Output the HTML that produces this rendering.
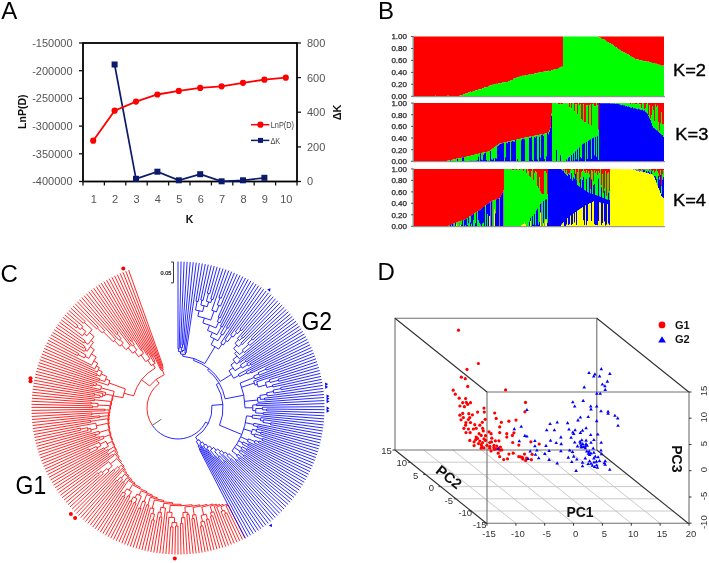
<!DOCTYPE html>
<html><head><meta charset="utf-8"><style>
html,body{margin:0;padding:0;background:#fff;overflow:hidden;}
svg{display:block;font-family:"Liberation Sans", sans-serif;filter:blur(0.35px);}
</style></head><body>
<svg width="709" height="563" viewBox="0 0 709 563">
<text x="1.2" y="18.8" font-size="24" fill="#000">A</text>
<text x="378" y="18.6" font-size="24" fill="#000">B</text>
<text x="0.6" y="281.8" font-size="24" fill="#000">C</text>
<text x="377.5" y="279.6" font-size="24" fill="#000">D</text>
<rect x="83" y="43" width="214" height="138.5" fill="none" stroke="#000" stroke-width="1.8"/>
<line x1="79" y1="43.0" x2="83" y2="43.0" stroke="#111" stroke-width="1.3"/>
<text x="72.5" y="46.9" font-size="11" fill="#555" text-anchor="end">-150000</text>
<line x1="79" y1="70.7" x2="83" y2="70.7" stroke="#111" stroke-width="1.3"/>
<text x="72.5" y="74.6" font-size="11" fill="#555" text-anchor="end">-200000</text>
<line x1="79" y1="98.4" x2="83" y2="98.4" stroke="#111" stroke-width="1.3"/>
<text x="72.5" y="102.3" font-size="11" fill="#555" text-anchor="end">-250000</text>
<line x1="79" y1="126.1" x2="83" y2="126.1" stroke="#111" stroke-width="1.3"/>
<text x="72.5" y="130.0" font-size="11" fill="#555" text-anchor="end">-300000</text>
<line x1="79" y1="153.8" x2="83" y2="153.8" stroke="#111" stroke-width="1.3"/>
<text x="72.5" y="157.7" font-size="11" fill="#555" text-anchor="end">-350000</text>
<line x1="79" y1="181.5" x2="83" y2="181.5" stroke="#111" stroke-width="1.3"/>
<text x="72.5" y="185.4" font-size="11" fill="#555" text-anchor="end">-400000</text>
<line x1="297" y1="43.0" x2="301" y2="43.0" stroke="#111" stroke-width="1.3"/>
<text x="307" y="46.9" font-size="11" fill="#555">800</text>
<line x1="297" y1="77.6" x2="301" y2="77.6" stroke="#111" stroke-width="1.3"/>
<text x="307" y="81.5" font-size="11" fill="#555">600</text>
<line x1="297" y1="112.2" x2="301" y2="112.2" stroke="#111" stroke-width="1.3"/>
<text x="307" y="116.2" font-size="11" fill="#555">400</text>
<line x1="297" y1="146.9" x2="301" y2="146.9" stroke="#111" stroke-width="1.3"/>
<text x="307" y="150.8" font-size="11" fill="#555">200</text>
<line x1="297" y1="181.5" x2="301" y2="181.5" stroke="#111" stroke-width="1.3"/>
<text x="307" y="185.4" font-size="11" fill="#555">0</text>
<line x1="83.0" y1="181.5" x2="83.0" y2="185.5" stroke="#111" stroke-width="1.3"/>
<line x1="104.4" y1="181.5" x2="104.4" y2="185.5" stroke="#111" stroke-width="1.3"/>
<line x1="125.8" y1="181.5" x2="125.8" y2="185.5" stroke="#111" stroke-width="1.3"/>
<line x1="147.2" y1="181.5" x2="147.2" y2="185.5" stroke="#111" stroke-width="1.3"/>
<line x1="168.6" y1="181.5" x2="168.6" y2="185.5" stroke="#111" stroke-width="1.3"/>
<line x1="190.0" y1="181.5" x2="190.0" y2="185.5" stroke="#111" stroke-width="1.3"/>
<line x1="211.4" y1="181.5" x2="211.4" y2="185.5" stroke="#111" stroke-width="1.3"/>
<line x1="232.8" y1="181.5" x2="232.8" y2="185.5" stroke="#111" stroke-width="1.3"/>
<line x1="254.2" y1="181.5" x2="254.2" y2="185.5" stroke="#111" stroke-width="1.3"/>
<line x1="275.6" y1="181.5" x2="275.6" y2="185.5" stroke="#111" stroke-width="1.3"/>
<line x1="297.0" y1="181.5" x2="297.0" y2="185.5" stroke="#111" stroke-width="1.3"/>
<text x="93.7" y="203.2" font-size="11" fill="#555" text-anchor="middle">1</text>
<text x="115.1" y="203.2" font-size="11" fill="#555" text-anchor="middle">2</text>
<text x="136.5" y="203.2" font-size="11" fill="#555" text-anchor="middle">3</text>
<text x="157.9" y="203.2" font-size="11" fill="#555" text-anchor="middle">4</text>
<text x="179.3" y="203.2" font-size="11" fill="#555" text-anchor="middle">5</text>
<text x="200.7" y="203.2" font-size="11" fill="#555" text-anchor="middle">6</text>
<text x="222.1" y="203.2" font-size="11" fill="#555" text-anchor="middle">7</text>
<text x="243.5" y="203.2" font-size="11" fill="#555" text-anchor="middle">8</text>
<text x="264.9" y="203.2" font-size="11" fill="#555" text-anchor="middle">9</text>
<text x="286.3" y="203.2" font-size="11" fill="#555" text-anchor="middle">10</text>
<text x="189.5" y="222.8" font-size="10.5" font-weight="bold" fill="#111" text-anchor="middle">K</text>
<text transform="translate(25.8,111.7) rotate(-90)" font-size="10.5" font-weight="bold" fill="#111" text-anchor="middle">LnP(D)</text>
<text transform="translate(341,112.4) rotate(-90)" font-size="11" font-weight="bold" fill="#111" text-anchor="middle">&#916;K</text>
<polyline points="114.6,64.5 136.0,178.8 157.4,171.7 178.8,180.3 200.2,174.2 221.6,181.3 243.0,180.3 264.4,177.8" fill="none" stroke="#0b1a6c" stroke-width="1.7"/>
<rect x="111.6" y="61.5" width="6" height="6" fill="#0b1a6c"/>
<rect x="133.0" y="175.8" width="6" height="6" fill="#0b1a6c"/>
<rect x="154.4" y="168.7" width="6" height="6" fill="#0b1a6c"/>
<rect x="175.8" y="177.3" width="6" height="6" fill="#0b1a6c"/>
<rect x="197.2" y="171.2" width="6" height="6" fill="#0b1a6c"/>
<rect x="218.6" y="178.3" width="6" height="6" fill="#0b1a6c"/>
<rect x="240.0" y="177.3" width="6" height="6" fill="#0b1a6c"/>
<rect x="261.4" y="174.8" width="6" height="6" fill="#0b1a6c"/>
<polyline points="93.2,140.7 114.6,110.7 136.0,101.6 157.4,94.5 178.8,90.9 200.2,87.9 221.6,86.3 243.0,82.8 264.4,79.7 285.8,77.7" fill="none" stroke="#ff0000" stroke-width="1.8"/>
<circle cx="93.2" cy="140.7" r="3.1" fill="#ff0000"/>
<circle cx="114.6" cy="110.7" r="3.1" fill="#ff0000"/>
<circle cx="136.0" cy="101.6" r="3.1" fill="#ff0000"/>
<circle cx="157.4" cy="94.5" r="3.1" fill="#ff0000"/>
<circle cx="178.8" cy="90.9" r="3.1" fill="#ff0000"/>
<circle cx="200.2" cy="87.9" r="3.1" fill="#ff0000"/>
<circle cx="221.6" cy="86.3" r="3.1" fill="#ff0000"/>
<circle cx="243.0" cy="82.8" r="3.1" fill="#ff0000"/>
<circle cx="264.4" cy="79.7" r="3.1" fill="#ff0000"/>
<circle cx="285.8" cy="77.7" r="3.1" fill="#ff0000"/>
<line x1="251" y1="124.7" x2="269.3" y2="124.7" stroke="#ff0000" stroke-width="1.5"/>
<circle cx="260.4" cy="124.7" r="3.1" fill="#ff0000"/>
<line x1="251" y1="140.4" x2="269.3" y2="140.4" stroke="#0b1a6c" stroke-width="1.5"/>
<rect x="258" y="137.9" width="5" height="5" fill="#0b1a6c"/>
<text transform="translate(270.7,128.3) scale(0.82,1)" font-size="9" fill="#444">LnP(D)</text>
<text transform="translate(270.4,143.6) scale(0.82,1)" font-size="9" fill="#444">&#916;K</text>
<path fill="#ff0000" d="M414 36.50h1V96.16h-1ZM415 36.50h1V96.01h-1ZM416 36.50h1V96.30h-1ZM417 36.50h1V95.94h-1ZM418 36.50h1V96.30h-1ZM419 36.50h1V96.17h-1ZM420 36.50h1V95.92h-1ZM421 36.50h1V96.27h-1ZM422 36.50h1V95.89h-1ZM423 36.50h1V96.20h-1ZM424 36.50h1V95.91h-1ZM425 36.50h1V95.92h-1ZM426 36.50h1V96.18h-1ZM427 36.50h1V96.30h-1ZM428 36.50h1V95.93h-1ZM429 36.50h1V96.01h-1ZM430 36.50h1V96.30h-1ZM431 36.50h1V96.30h-1ZM432 36.50h1V96.28h-1ZM433 36.50h1V96.13h-1ZM434 36.50h1V96.30h-1ZM435 36.50h1V95.84h-1ZM436 36.50h1V96.30h-1ZM437 36.50h1V96.03h-1ZM438 36.50h1V95.91h-1ZM439 36.50h1V95.88h-1ZM440 36.50h1V96.03h-1ZM441 36.50h1V96.30h-1ZM442 36.50h1V95.92h-1ZM443 36.50h1V96.23h-1ZM444 36.50h1V96.27h-1ZM445 36.50h1V96.06h-1ZM446 36.50h1V96.19h-1ZM447 36.50h1V95.80h-1ZM448 36.50h1V95.79h-1ZM449 36.50h1V95.91h-1ZM450 36.50h1V96.28h-1ZM451 36.50h1V96.07h-1ZM452 36.50h1V95.98h-1ZM453 36.50h1V96.19h-1ZM454 36.50h1V96.08h-1ZM455 36.50h1V95.95h-1ZM456 36.50h1V96.30h-1ZM457 36.50h1V96.26h-1ZM458 36.50h1V95.90h-1ZM459 36.50h1V95.83h-1ZM460 36.50h1V95.46h-1ZM461 36.50h1V95.41h-1ZM462 36.50h1V94.96h-1ZM463 36.50h1V94.27h-1ZM464 36.50h1V94.50h-1ZM465 36.50h1V93.47h-1ZM466 36.50h1V93.38h-1ZM467 36.50h1V93.32h-1ZM468 36.50h1V92.51h-1ZM469 36.50h1V92.45h-1ZM470 36.50h1V91.76h-1ZM471 36.50h1V91.93h-1ZM472 36.50h1V91.67h-1ZM473 36.50h1V91.19h-1ZM474 36.50h1V91.10h-1ZM475 36.50h1V90.32h-1ZM476 36.50h1V90.30h-1ZM477 36.50h1V89.90h-1ZM478 36.50h1V89.57h-1ZM479 36.50h1V89.15h-1ZM480 36.50h1V89.14h-1ZM481 36.50h1V88.91h-1ZM482 36.50h1V88.21h-1ZM483 36.50h1V88.04h-1ZM484 36.50h1V87.24h-1ZM485 36.50h1V87.43h-1ZM486 36.50h1V87.07h-1ZM487 36.50h1V87.03h-1ZM488 36.50h1V86.57h-1ZM489 36.50h1V85.82h-1ZM490 36.50h1V85.58h-1ZM491 36.50h1V85.49h-1ZM492 36.50h1V84.67h-1ZM493 36.50h1V84.79h-1ZM494 36.50h1V84.33h-1ZM495 36.50h1V84.06h-1ZM496 36.50h1V83.78h-1ZM497 36.50h1V84.11h-1ZM498 36.50h1V83.37h-1ZM499 36.50h1V83.24h-1ZM500 36.50h1V83.12h-1ZM501 36.50h1V83.27h-1ZM502 36.50h1V82.41h-1ZM503 36.50h1V82.47h-1ZM504 36.50h1V82.32h-1ZM505 36.50h1V82.36h-1ZM506 36.50h1V82.08h-1ZM507 36.50h1V81.88h-1ZM508 36.50h1V81.18h-1ZM509 36.50h1V80.99h-1ZM510 36.50h1V80.45h-1ZM511 36.50h1V80.38h-1ZM512 36.50h1V79.95h-1ZM513 36.50h1V78.81h-1ZM514 36.50h1V78.37h-1ZM515 36.50h1V78.06h-1ZM516 36.50h1V77.71h-1ZM517 36.50h1V77.56h-1ZM518 36.50h1V77.29h-1ZM519 36.50h1V76.67h-1ZM520 36.50h1V76.12h-1ZM521 36.50h1V76.09h-1ZM522 36.50h1V75.70h-1ZM523 36.50h1V75.63h-1ZM524 36.50h1V75.76h-1ZM525 36.50h1V75.37h-1ZM526 36.50h1V75.05h-1ZM527 36.50h1V74.96h-1ZM528 36.50h1V74.83h-1ZM529 36.50h1V74.15h-1ZM530 36.50h1V74.65h-1ZM531 36.50h1V74.38h-1ZM532 36.50h1V74.27h-1ZM533 36.50h1V74.03h-1ZM534 36.50h1V73.53h-1ZM535 36.50h1V73.36h-1ZM536 36.50h1V72.95h-1ZM537 36.50h1V73.20h-1ZM538 36.50h1V72.56h-1ZM539 36.50h1V72.39h-1ZM540 36.50h1V72.33h-1ZM541 36.50h1V72.11h-1ZM542 36.50h1V72.08h-1ZM543 36.50h1V71.67h-1ZM544 36.50h1V71.45h-1ZM545 36.50h1V71.40h-1ZM546 36.50h1V71.18h-1ZM547 36.50h1V71.21h-1ZM548 36.50h1V70.77h-1ZM549 36.50h1V71.27h-1ZM550 36.50h1V70.89h-1ZM551 36.50h1V70.34h-1ZM552 36.50h1V70.08h-1ZM553 36.50h1V69.80h-1ZM554 36.50h1V69.45h-1ZM555 36.50h1V68.90h-1ZM556 36.50h1V69.12h-1ZM557 36.50h1V68.88h-1ZM558 36.50h1V68.11h-1ZM559 36.50h1V67.80h-1ZM560 36.50h1V67.15h-1ZM561 36.50h1V66.84h-1ZM562 36.50h1V66.71h-1ZM598 36.50h1V37.42h-1ZM599 36.50h1V37.32h-1ZM600 36.50h1V37.65h-1ZM601 36.50h1V38.83h-1ZM602 36.50h1V38.93h-1ZM603 36.50h1V39.06h-1ZM604 36.50h1V39.82h-1ZM605 36.50h1V39.93h-1ZM606 36.50h1V40.95h-1ZM607 36.50h1V41.92h-1ZM608 36.50h1V42.44h-1ZM609 36.50h1V42.93h-1ZM610 36.50h1V43.19h-1ZM611 36.50h1V43.89h-1ZM612 36.50h1V44.43h-1ZM613 36.50h1V45.60h-1ZM614 36.50h1V46.10h-1ZM615 36.50h1V46.99h-1ZM616 36.50h1V47.33h-1ZM617 36.50h1V47.93h-1ZM618 36.50h1V49.07h-1ZM619 36.50h1V49.84h-1ZM620 36.50h1V50.38h-1ZM621 36.50h1V50.98h-1ZM622 36.50h1V51.62h-1ZM623 36.50h1V52.20h-1ZM624 36.50h1V52.43h-1ZM625 36.50h1V53.30h-1ZM626 36.50h1V53.76h-1ZM627 36.50h1V54.06h-1ZM628 36.50h1V54.62h-1ZM629 36.50h1V55.37h-1ZM630 36.50h1V55.91h-1ZM631 36.50h1V56.82h-1ZM632 36.50h1V57.59h-1ZM633 36.50h1V57.66h-1ZM634 36.50h1V58.45h-1ZM635 36.50h1V58.89h-1ZM636 36.50h1V59.26h-1ZM637 36.50h1V59.19h-1ZM638 36.50h1V59.48h-1ZM639 36.50h1V59.88h-1ZM640 36.50h1V60.14h-1ZM641 36.50h1V60.32h-1ZM642 36.50h1V60.82h-1ZM643 36.50h1V61.22h-1ZM644 36.50h1V61.34h-1ZM645 36.50h1V61.22h-1ZM646 36.50h1V61.53h-1ZM647 36.50h1V61.81h-1ZM648 36.50h1V61.41h-1ZM649 36.50h1V62.04h-1ZM650 36.50h1V62.47h-1ZM651 36.50h1V62.65h-1ZM652 36.50h1V62.91h-1ZM653 36.50h1V62.98h-1ZM654 36.50h1V63.03h-1ZM655 36.50h1V63.80h-1ZM656 36.50h1V63.72h-1ZM657 36.50h1V64.38h-1ZM658 36.50h1V64.81h-1ZM659 36.50h1V64.63h-1ZM660 36.50h1V64.92h-1ZM661 36.50h1V65.64h-1ZM662 36.50h1V65.75h-1ZM663 36.50h1V65.59h-1ZM414 103.10h1V161.30h-1ZM415 103.10h1V161.30h-1ZM416 103.10h1V161.30h-1ZM417 103.10h1V161.30h-1ZM418 103.10h1V161.30h-1ZM419 103.10h1V161.30h-1ZM420 103.10h1V161.30h-1ZM421 103.10h1V161.30h-1ZM422 103.10h1V161.30h-1ZM423 103.10h1V161.30h-1ZM424 103.10h1V161.30h-1ZM425 103.10h1V161.30h-1ZM426 103.10h1V161.30h-1ZM427 103.10h1V161.30h-1ZM428 103.10h1V161.30h-1ZM429 103.10h1V161.30h-1ZM430 103.10h1V161.30h-1ZM431 103.10h1V161.30h-1ZM432 103.10h1V161.30h-1ZM433 103.10h1V161.30h-1ZM434 103.10h1V161.30h-1ZM435 103.10h1V161.30h-1ZM436 103.10h1V161.30h-1ZM437 103.10h1V161.30h-1ZM438 103.10h1V161.30h-1ZM439 103.10h1V161.30h-1ZM440 103.10h1V161.30h-1ZM441 103.10h1V161.30h-1ZM442 103.10h1V161.30h-1ZM443 103.10h1V161.30h-1ZM444 103.10h1V161.30h-1ZM445 103.10h1V161.19h-1ZM446 103.10h1V160.98h-1ZM447 103.10h1V160.76h-1ZM448 103.10h1V160.55h-1ZM449 103.10h1V160.33h-1ZM450 103.10h1V160.11h-1ZM451 103.10h1V159.90h-1ZM452 103.10h1V159.68h-1ZM453 103.10h1V159.47h-1ZM454 103.10h1V159.25h-1ZM455 103.10h1V159.04h-1ZM456 103.10h1V158.82h-1ZM457 103.10h1V158.60h-1ZM458 103.10h1V158.39h-1ZM459 103.10h1V158.17h-1ZM460 103.10h1V157.96h-1ZM461 103.10h1V157.74h-1ZM462 103.10h1V157.53h-1ZM463 103.10h1V157.31h-1ZM464 103.10h1V157.09h-1ZM465 103.10h1V156.88h-1ZM466 103.10h1V156.64h-1ZM467 103.10h1V156.40h-1ZM468 103.10h1V156.17h-1ZM469 103.10h1V155.93h-1ZM470 103.10h1V155.69h-1ZM471 103.10h1V155.46h-1ZM472 103.10h1V155.22h-1ZM473 103.10h1V154.99h-1ZM474 103.10h1V154.75h-1ZM475 103.10h1V154.51h-1ZM476 103.10h1V154.28h-1ZM477 103.10h1V154.04h-1ZM478 103.10h1V153.80h-1ZM479 103.10h1V153.57h-1ZM480 103.10h1V153.33h-1ZM481 103.10h1V153.10h-1ZM482 103.10h1V152.86h-1ZM483 103.10h1V152.62h-1ZM484 103.10h1V152.39h-1ZM485 103.10h1V152.15h-1ZM486 103.10h1V151.91h-1ZM487 103.10h1V151.68h-1ZM488 103.10h1V151.44h-1ZM489 103.10h1V151.01h-1ZM490 103.10h1V150.28h-1ZM491 103.10h1V149.55h-1ZM492 103.10h1V148.82h-1ZM493 103.10h1V148.09h-1ZM494 103.10h1V147.36h-1ZM495 103.10h1V146.61h-1ZM496 103.10h1V145.82h-1ZM497 103.10h1V145.04h-1ZM498 103.10h1V144.25h-1ZM499 103.10h1V143.63h-1ZM500 103.10h1V143.39h-1ZM501 103.10h1V143.16h-1ZM502 103.10h1V142.92h-1ZM503 103.10h1V142.69h-1ZM504 103.10h1V142.45h-1ZM505 103.10h1V142.22h-1ZM506 103.10h1V141.98h-1ZM507 103.10h1V141.75h-1ZM508 103.10h1V141.52h-1ZM509 103.10h1V141.28h-1ZM510 103.10h1V141.05h-1ZM511 103.10h1V140.82h-1ZM512 103.10h1V140.59h-1ZM513 103.10h1V140.36h-1ZM514 103.10h1V140.13h-1ZM515 103.10h1V139.90h-1ZM516 103.10h1V139.67h-1ZM517 103.10h1V139.44h-1ZM518 103.10h1V139.21h-1ZM519 103.10h1V138.98h-1ZM520 103.10h1V138.75h-1ZM521 103.10h1V138.52h-1ZM522 103.10h1V138.28h-1ZM523 103.10h1V138.05h-1ZM524 103.10h1V137.82h-1ZM525 103.10h1V137.62h-1ZM526 103.10h1V137.42h-1ZM527 103.10h1V137.22h-1ZM528 103.10h1V137.02h-1ZM529 103.10h1V136.82h-1ZM530 103.10h1V136.62h-1ZM531 103.10h1V136.42h-1ZM532 103.10h1V136.22h-1ZM533 103.10h1V136.02h-1ZM534 103.10h1V135.82h-1ZM535 103.10h1V135.62h-1ZM536 103.10h1V135.42h-1ZM537 103.10h1V135.22h-1ZM538 103.10h1V135.02h-1ZM539 103.10h1V134.82h-1ZM540 103.10h1V134.62h-1ZM541 103.10h1V134.42h-1ZM542 103.10h1V134.17h-1ZM543 103.10h1V133.92h-1ZM544 103.10h1V133.66h-1ZM545 103.10h1V133.41h-1ZM546 103.10h1V133.16h-1ZM547 103.10h1V132.90h-1ZM548 103.10h1V132.25h-1ZM549 103.10h1V129.98h-1ZM550 103.10h1V127.71h-1ZM551 103.10h1V113.87h-1ZM557 103.10h1V103.26h-1ZM558 103.10h1V103.94h-1ZM559 103.10h1V104.04h-1ZM560 103.10h1V103.83h-1ZM561 103.10h1V104.22h-1ZM562 103.10h1V103.90h-1ZM563 103.10h1V103.20h-1ZM564 103.10h1V103.48h-1ZM565 103.10h1V103.52h-1ZM566 103.10h1V103.28h-1ZM567 103.10h1V103.25h-1ZM568 103.10h1V103.38h-1ZM569 103.10h1V106.88h-1ZM570 103.10h1V103.31h-1ZM571 103.10h1V108.56h-1ZM572 103.10h1V103.75h-1ZM573 103.10h1V103.60h-1ZM574 103.10h1V111.08h-1ZM575 103.10h1V104.37h-1ZM576 103.10h1V104.36h-1ZM577 103.10h1V114.56h-1ZM578 103.10h1V103.50h-1ZM579 103.10h1V105.09h-1ZM580 103.10h1V104.26h-1ZM581 103.10h1V119.46h-1ZM582 103.10h1V120.69h-1ZM583 103.10h1V104.35h-1ZM584 103.10h1V122.07h-1ZM585 103.10h1V122.58h-1ZM586 103.10h1V105.62h-1ZM587 103.10h1V105.29h-1ZM588 103.10h1V124.12h-1ZM589 103.10h1V105.00h-1ZM590 103.10h1V104.01h-1ZM591 103.10h1V125.69h-1ZM592 103.10h1V103.97h-1ZM593 103.10h1V103.78h-1ZM594 103.10h1V106.32h-1ZM595 103.10h1V106.61h-1ZM596 103.10h1V103.29h-1ZM597 103.10h1V105.62h-1ZM598 103.10h1V129.71h-1ZM612 103.10h1V103.18h-1ZM615 103.10h1V103.33h-1ZM619 103.10h1V103.17h-1ZM620 103.10h1V103.46h-1ZM621 103.10h1V103.31h-1ZM622 103.10h1V103.35h-1ZM623 103.10h1V103.28h-1ZM624 103.10h1V103.24h-1ZM625 103.10h1V103.20h-1ZM626 103.10h1V103.57h-1ZM627 103.10h1V103.29h-1ZM628 103.10h1V103.30h-1ZM629 103.10h1V103.50h-1ZM630 103.10h1V104.04h-1ZM632 103.10h1V103.81h-1ZM633 103.10h1V103.71h-1ZM635 103.10h1V104.28h-1ZM636 103.10h1V104.33h-1ZM637 103.10h1V103.48h-1ZM638 103.10h1V103.31h-1ZM639 103.10h1V104.15h-1ZM640 103.10h1V104.42h-1ZM641 103.10h1V108.51h-1ZM642 103.10h1V103.54h-1ZM643 103.10h1V103.78h-1ZM644 103.10h1V109.06h-1ZM645 103.10h1V108.52h-1ZM646 103.10h1V104.19h-1ZM648 103.10h1V115.12h-1ZM649 103.10h1V105.27h-1ZM650 103.10h1V118.85h-1ZM651 103.10h1V115.26h-1ZM652 103.10h1V105.97h-1ZM653 103.10h1V109.93h-1ZM654 103.10h1V121.21h-1ZM655 103.10h1V104.65h-1ZM656 103.10h1V107.20h-1ZM657 103.10h1V105.63h-1ZM658 103.10h1V122.50h-1ZM659 103.10h1V130.71h-1ZM660 103.10h1V123.68h-1ZM661 103.10h1V112.00h-1ZM662 103.10h1V124.70h-1ZM663 103.10h1V124.03h-1ZM414 168.90h1V226.30h-1ZM415 168.90h1V226.30h-1ZM416 168.90h1V226.30h-1ZM417 168.90h1V226.30h-1ZM418 168.90h1V226.30h-1ZM419 168.90h1V226.30h-1ZM420 168.90h1V226.30h-1ZM421 168.90h1V226.30h-1ZM422 168.90h1V226.30h-1ZM423 168.90h1V226.30h-1ZM424 168.90h1V226.30h-1ZM425 168.90h1V226.30h-1ZM426 168.90h1V226.30h-1ZM427 168.90h1V226.30h-1ZM428 168.90h1V226.30h-1ZM429 168.90h1V226.30h-1ZM430 168.90h1V226.30h-1ZM431 168.90h1V226.30h-1ZM432 168.90h1V226.30h-1ZM433 168.90h1V226.30h-1ZM434 168.90h1V226.30h-1ZM435 168.90h1V226.30h-1ZM436 168.90h1V226.30h-1ZM437 168.90h1V226.30h-1ZM438 168.90h1V226.30h-1ZM439 168.90h1V226.30h-1ZM440 168.90h1V226.30h-1ZM441 168.90h1V226.30h-1ZM442 168.90h1V226.30h-1ZM443 168.90h1V226.30h-1ZM444 168.90h1V226.30h-1ZM445 168.90h1V226.30h-1ZM446 168.90h1V226.30h-1ZM447 168.90h1V226.03h-1ZM448 168.90h1V225.65h-1ZM449 168.90h1V225.27h-1ZM450 168.90h1V224.89h-1ZM451 168.90h1V224.51h-1ZM452 168.90h1V224.12h-1ZM453 168.90h1V223.74h-1ZM454 168.90h1V223.36h-1ZM455 168.90h1V222.98h-1ZM456 168.90h1V222.60h-1ZM457 168.90h1V222.22h-1ZM458 168.90h1V221.83h-1ZM459 168.90h1V221.45h-1ZM460 168.90h1V221.07h-1ZM461 168.90h1V220.69h-1ZM462 168.90h1V220.31h-1ZM463 168.90h1V219.93h-1ZM464 168.90h1V219.54h-1ZM465 168.90h1V219.14h-1ZM466 168.90h1V218.51h-1ZM467 168.90h1V217.88h-1ZM468 168.90h1V217.25h-1ZM469 168.90h1V216.62h-1ZM470 168.90h1V215.99h-1ZM471 168.90h1V215.36h-1ZM472 168.90h1V214.73h-1ZM473 168.90h1V214.10h-1ZM474 168.90h1V213.47h-1ZM475 168.90h1V212.84h-1ZM476 168.90h1V212.21h-1ZM477 168.90h1V211.58h-1ZM478 168.90h1V210.95h-1ZM479 168.90h1V210.23h-1ZM480 168.90h1V209.45h-1ZM481 168.90h1V208.67h-1ZM482 168.90h1V207.89h-1ZM483 168.90h1V207.11h-1ZM484 168.90h1V206.32h-1ZM485 168.90h1V205.54h-1ZM486 168.90h1V204.76h-1ZM487 168.90h1V203.98h-1ZM488 168.90h1V203.20h-1ZM489 168.90h1V202.42h-1ZM490 168.90h1V201.63h-1ZM491 168.90h1V201.14h-1ZM492 168.90h1V200.78h-1ZM493 168.90h1V200.41h-1ZM494 168.90h1V200.05h-1ZM495 168.90h1V199.68h-1ZM496 168.90h1V199.32h-1ZM497 168.90h1V198.95h-1ZM498 168.90h1V198.58h-1ZM499 168.90h1V198.22h-1ZM500 168.90h1V197.11h-1ZM501 168.90h1V194.87h-1ZM502 168.90h1V192.64h-1ZM503 168.90h1V190.40h-1ZM507 168.90h1V169.85h-1ZM508 168.90h1V169.16h-1ZM510 168.90h1V169.78h-1ZM512 168.90h1V170.17h-1ZM513 168.90h1V170.37h-1ZM516 168.90h1V169.91h-1ZM519 168.90h1V170.61h-1ZM520 168.90h1V169.07h-1ZM521 168.90h1V169.00h-1ZM522 168.90h1V169.63h-1ZM523 168.90h1V171.45h-1ZM524 168.90h1V168.98h-1ZM525 168.90h1V169.15h-1ZM526 168.90h1V173.41h-1ZM527 168.90h1V169.20h-1ZM528 168.90h1V171.14h-1ZM529 168.90h1V176.00h-1ZM530 168.90h1V177.00h-1ZM531 168.90h1V171.37h-1ZM532 168.90h1V169.37h-1ZM533 168.90h1V180.51h-1ZM534 168.90h1V173.50h-1ZM535 168.90h1V171.18h-1ZM536 168.90h1V172.56h-1ZM537 168.90h1V186.19h-1ZM538 168.90h1V187.89h-1ZM539 168.90h1V177.15h-1ZM540 168.90h1V191.83h-1ZM541 168.90h1V193.80h-1ZM542 168.90h1V193.89h-1ZM543 168.90h1V193.98h-1ZM544 168.90h1V170.96h-1ZM545 168.90h1V171.36h-1ZM546 168.90h1V172.98h-1ZM547 168.90h1V194.35h-1ZM561 168.90h1V169.35h-1ZM563 168.90h1V170.51h-1ZM564 168.90h1V169.65h-1ZM565 168.90h1V172.64h-1ZM566 168.90h1V170.01h-1ZM567 168.90h1V174.54h-1ZM568 168.90h1V173.35h-1ZM569 168.90h1V173.71h-1ZM570 168.90h1V170.43h-1ZM571 168.90h1V169.01h-1ZM572 168.90h1V169.02h-1ZM573 168.90h1V170.13h-1ZM574 168.90h1V175.72h-1ZM575 168.90h1V169.04h-1ZM576 168.90h1V179.02h-1ZM577 168.90h1V171.93h-1ZM578 168.90h1V168.99h-1ZM579 168.90h1V183.13h-1ZM580 168.90h1V177.81h-1ZM581 168.90h1V172.55h-1ZM582 168.90h1V171.30h-1ZM583 168.90h1V169.29h-1ZM584 168.90h1V171.47h-1ZM585 168.90h1V173.38h-1ZM586 168.90h1V170.62h-1ZM587 168.90h1V173.41h-1ZM588 168.90h1V171.26h-1ZM589 168.90h1V174.73h-1ZM590 168.90h1V189.60h-1ZM591 168.90h1V170.27h-1ZM592 168.90h1V170.94h-1ZM593 168.90h1V180.91h-1ZM594 168.90h1V170.65h-1ZM595 168.90h1V173.47h-1ZM596 168.90h1V171.05h-1ZM597 168.90h1V175.41h-1ZM598 168.90h1V171.23h-1ZM599 168.90h1V173.27h-1ZM600 168.90h1V169.14h-1ZM601 168.90h1V185.14h-1ZM602 168.90h1V174.21h-1ZM603 168.90h1V192.92h-1ZM604 168.90h1V188.76h-1ZM605 168.90h1V171.24h-1ZM606 168.90h1V196.61h-1ZM607 168.90h1V173.67h-1ZM608 168.90h1V172.76h-1ZM609 168.90h1V190.97h-1ZM633 168.90h1V168.99h-1ZM634 168.90h1V169.00h-1ZM635 168.90h1V169.14h-1ZM636 168.90h1V169.39h-1ZM637 168.90h1V169.36h-1ZM638 168.90h1V169.42h-1ZM639 168.90h1V170.38h-1ZM640 168.90h1V170.14h-1ZM641 168.90h1V169.33h-1ZM642 168.90h1V170.32h-1ZM643 168.90h1V169.23h-1ZM644 168.90h1V169.47h-1ZM645 168.90h1V169.47h-1ZM646 168.90h1V169.82h-1ZM647 168.90h1V169.00h-1ZM648 168.90h1V169.22h-1ZM649 168.90h1V170.74h-1ZM650 168.90h1V169.53h-1ZM651 168.90h1V169.91h-1ZM652 168.90h1V170.99h-1ZM653 168.90h1V170.45h-1ZM654 168.90h1V172.86h-1ZM655 168.90h1V171.02h-1ZM656 168.90h1V169.46h-1ZM657 168.90h1V171.08h-1ZM658 168.90h1V173.80h-1ZM659 168.90h1V177.29h-1ZM660 168.90h1V170.48h-1ZM661 168.90h1V186.03h-1ZM662 168.90h1V174.52h-1ZM663 168.90h1V170.26h-1Z"/>
<path fill="#00ff00" d="M414 96.16h1V96.30h-1ZM415 96.01h1V96.30h-1ZM417 95.94h1V96.30h-1ZM419 96.17h1V96.30h-1ZM420 95.92h1V96.30h-1ZM422 95.89h1V96.30h-1ZM423 96.20h1V96.30h-1ZM424 95.91h1V96.30h-1ZM425 95.92h1V96.30h-1ZM426 96.18h1V96.30h-1ZM428 95.93h1V96.30h-1ZM429 96.01h1V96.30h-1ZM433 96.13h1V96.30h-1ZM435 95.84h1V96.30h-1ZM437 96.03h1V96.30h-1ZM438 95.91h1V96.30h-1ZM439 95.88h1V96.30h-1ZM440 96.03h1V96.30h-1ZM442 95.92h1V96.30h-1ZM443 96.23h1V96.30h-1ZM445 96.06h1V96.30h-1ZM446 96.19h1V96.30h-1ZM447 95.80h1V96.30h-1ZM448 95.79h1V96.30h-1ZM449 95.91h1V96.30h-1ZM451 96.07h1V96.30h-1ZM452 95.98h1V96.30h-1ZM453 96.19h1V96.30h-1ZM454 96.08h1V96.30h-1ZM455 95.95h1V96.30h-1ZM458 95.90h1V96.30h-1ZM459 95.83h1V96.30h-1ZM460 95.46h1V96.30h-1ZM461 95.41h1V96.30h-1ZM462 94.96h1V96.30h-1ZM463 94.27h1V96.30h-1ZM464 94.50h1V96.30h-1ZM465 93.47h1V96.30h-1ZM466 93.38h1V96.30h-1ZM467 93.32h1V96.30h-1ZM468 92.51h1V96.30h-1ZM469 92.45h1V96.30h-1ZM470 91.76h1V96.30h-1ZM471 91.93h1V96.30h-1ZM472 91.67h1V96.30h-1ZM473 91.19h1V96.30h-1ZM474 91.10h1V96.30h-1ZM475 90.32h1V96.30h-1ZM476 90.30h1V96.30h-1ZM477 89.90h1V96.30h-1ZM478 89.57h1V96.30h-1ZM479 89.15h1V96.30h-1ZM480 89.14h1V96.30h-1ZM481 88.91h1V96.30h-1ZM482 88.21h1V96.30h-1ZM483 88.04h1V96.30h-1ZM484 87.24h1V96.30h-1ZM485 87.43h1V96.30h-1ZM486 87.07h1V96.30h-1ZM487 87.03h1V96.30h-1ZM488 86.57h1V96.30h-1ZM489 85.82h1V96.30h-1ZM490 85.58h1V96.30h-1ZM491 85.49h1V96.30h-1ZM492 84.67h1V96.30h-1ZM493 84.79h1V96.30h-1ZM494 84.33h1V96.30h-1ZM495 84.06h1V96.30h-1ZM496 83.78h1V96.30h-1ZM497 84.11h1V96.30h-1ZM498 83.37h1V96.30h-1ZM499 83.24h1V96.30h-1ZM500 83.12h1V96.30h-1ZM501 83.27h1V96.30h-1ZM502 82.41h1V96.30h-1ZM503 82.47h1V96.30h-1ZM504 82.32h1V96.30h-1ZM505 82.36h1V96.30h-1ZM506 82.08h1V96.30h-1ZM507 81.88h1V96.30h-1ZM508 81.18h1V96.30h-1ZM509 80.99h1V96.30h-1ZM510 80.45h1V96.30h-1ZM511 80.38h1V96.30h-1ZM512 79.95h1V96.30h-1ZM513 78.81h1V96.30h-1ZM514 78.37h1V96.30h-1ZM515 78.06h1V96.30h-1ZM516 77.71h1V96.30h-1ZM517 77.56h1V96.30h-1ZM518 77.29h1V96.30h-1ZM519 76.67h1V96.30h-1ZM520 76.12h1V96.30h-1ZM521 76.09h1V96.30h-1ZM522 75.70h1V96.30h-1ZM523 75.63h1V96.30h-1ZM524 75.76h1V96.30h-1ZM525 75.37h1V96.30h-1ZM526 75.05h1V96.30h-1ZM527 74.96h1V96.30h-1ZM528 74.83h1V96.30h-1ZM529 74.15h1V96.30h-1ZM530 74.65h1V96.30h-1ZM531 74.38h1V96.30h-1ZM532 74.27h1V96.30h-1ZM533 74.03h1V96.30h-1ZM534 73.53h1V96.30h-1ZM535 73.36h1V96.30h-1ZM536 72.95h1V96.30h-1ZM537 73.20h1V96.30h-1ZM538 72.56h1V96.30h-1ZM539 72.39h1V96.30h-1ZM540 72.33h1V96.30h-1ZM541 72.11h1V96.30h-1ZM542 72.08h1V96.30h-1ZM543 71.67h1V96.30h-1ZM544 71.45h1V96.30h-1ZM545 71.40h1V96.30h-1ZM546 71.18h1V96.30h-1ZM547 71.21h1V96.30h-1ZM548 70.77h1V96.30h-1ZM549 71.27h1V96.30h-1ZM550 70.89h1V96.30h-1ZM551 70.34h1V96.30h-1ZM552 70.08h1V96.30h-1ZM553 69.80h1V96.30h-1ZM554 69.45h1V96.30h-1ZM555 68.90h1V96.30h-1ZM556 69.12h1V96.30h-1ZM557 68.88h1V96.30h-1ZM558 68.11h1V96.30h-1ZM559 67.80h1V96.30h-1ZM560 67.15h1V96.30h-1ZM561 66.84h1V96.30h-1ZM562 66.71h1V96.30h-1ZM563 36.50h1V96.30h-1ZM564 36.50h1V96.30h-1ZM565 36.50h1V96.30h-1ZM566 36.50h1V96.30h-1ZM567 36.50h1V96.30h-1ZM568 36.50h1V96.30h-1ZM569 36.50h1V96.30h-1ZM570 36.50h1V96.30h-1ZM571 36.50h1V96.30h-1ZM572 36.50h1V96.30h-1ZM573 36.50h1V96.30h-1ZM574 36.50h1V96.30h-1ZM575 36.50h1V96.30h-1ZM576 36.50h1V96.30h-1ZM577 36.50h1V96.30h-1ZM578 36.50h1V96.30h-1ZM579 36.50h1V96.30h-1ZM580 36.50h1V96.30h-1ZM581 36.50h1V96.30h-1ZM582 36.50h1V96.30h-1ZM583 36.50h1V96.30h-1ZM584 36.50h1V96.30h-1ZM585 36.50h1V96.30h-1ZM586 36.50h1V96.30h-1ZM587 36.50h1V96.30h-1ZM588 36.50h1V96.30h-1ZM589 36.50h1V96.30h-1ZM590 36.50h1V96.30h-1ZM591 36.50h1V96.30h-1ZM592 36.50h1V96.30h-1ZM593 36.50h1V96.30h-1ZM594 36.50h1V96.30h-1ZM595 36.50h1V96.30h-1ZM596 36.50h1V96.30h-1ZM597 36.53h1V96.30h-1ZM598 37.42h1V96.30h-1ZM599 37.32h1V96.30h-1ZM600 37.65h1V96.30h-1ZM601 38.83h1V96.30h-1ZM602 38.93h1V96.30h-1ZM603 39.06h1V96.30h-1ZM604 39.82h1V96.30h-1ZM605 39.93h1V96.30h-1ZM606 40.95h1V96.30h-1ZM607 41.92h1V96.30h-1ZM608 42.44h1V96.30h-1ZM609 42.93h1V96.30h-1ZM610 43.19h1V96.30h-1ZM611 43.89h1V96.30h-1ZM612 44.43h1V96.30h-1ZM613 45.60h1V96.30h-1ZM614 46.10h1V96.30h-1ZM615 46.99h1V96.30h-1ZM616 47.33h1V96.30h-1ZM617 47.93h1V96.30h-1ZM618 49.07h1V96.30h-1ZM619 49.84h1V96.30h-1ZM620 50.38h1V96.30h-1ZM621 50.98h1V96.30h-1ZM622 51.62h1V96.30h-1ZM623 52.20h1V96.30h-1ZM624 52.43h1V96.30h-1ZM625 53.30h1V96.30h-1ZM626 53.76h1V96.30h-1ZM627 54.06h1V96.30h-1ZM628 54.62h1V96.30h-1ZM629 55.37h1V96.30h-1ZM630 55.91h1V96.30h-1ZM631 56.82h1V96.30h-1ZM632 57.59h1V96.30h-1ZM633 57.66h1V96.30h-1ZM634 58.45h1V96.30h-1ZM635 58.89h1V96.30h-1ZM636 59.26h1V96.30h-1ZM637 59.19h1V96.30h-1ZM638 59.48h1V96.30h-1ZM639 59.88h1V96.30h-1ZM640 60.14h1V96.30h-1ZM641 60.32h1V96.30h-1ZM642 60.82h1V96.30h-1ZM643 61.22h1V96.30h-1ZM644 61.34h1V96.30h-1ZM645 61.22h1V96.30h-1ZM646 61.53h1V96.30h-1ZM647 61.81h1V96.30h-1ZM648 61.41h1V96.30h-1ZM649 62.04h1V96.30h-1ZM650 62.47h1V96.30h-1ZM651 62.65h1V96.30h-1ZM652 62.91h1V96.30h-1ZM653 62.98h1V96.30h-1ZM654 63.03h1V96.30h-1ZM655 63.80h1V96.30h-1ZM656 63.72h1V96.30h-1ZM657 64.38h1V96.30h-1ZM658 64.81h1V96.30h-1ZM659 64.63h1V96.30h-1ZM660 64.92h1V96.30h-1ZM661 65.64h1V96.30h-1ZM662 65.75h1V96.30h-1ZM663 65.59h1V96.30h-1ZM445 161.19h1V161.27h-1ZM446 160.98h1V161.29h-1ZM447 160.76h1V161.22h-1ZM448 160.55h1V161.26h-1ZM449 160.33h1V161.28h-1ZM451 159.90h1V161.10h-1ZM452 159.68h1V161.09h-1ZM453 159.47h1V161.24h-1ZM454 159.25h1V161.21h-1ZM455 159.04h1V161.10h-1ZM456 158.82h1V161.14h-1ZM457 158.60h1V158.81h-1ZM458 158.39h1V161.05h-1ZM459 158.17h1V161.10h-1ZM460 157.96h1V161.05h-1ZM461 157.74h1V161.02h-1ZM464 157.09h1V160.84h-1ZM465 156.88h1V161.08h-1ZM466 156.64h1V160.91h-1ZM467 156.40h1V161.22h-1ZM468 156.17h1V161.11h-1ZM469 155.93h1V160.68h-1ZM470 155.69h1V160.83h-1ZM471 155.46h1V160.50h-1ZM472 155.22h1V160.74h-1ZM473 154.99h1V160.81h-1ZM474 154.75h1V160.86h-1ZM475 154.51h1V160.81h-1ZM476 154.28h1V160.56h-1ZM477 154.04h1V160.27h-1ZM478 153.80h1V156.61h-1ZM479 153.57h1V161.14h-1ZM481 153.10h1V159.56h-1ZM482 152.86h1V160.16h-1ZM483 152.62h1V154.72h-1ZM484 152.39h1V153.27h-1ZM485 152.15h1V152.52h-1ZM486 151.91h1V159.91h-1ZM487 151.68h1V161.07h-1ZM488 151.44h1V160.54h-1ZM489 151.01h1V161.00h-1ZM490 150.28h1V150.92h-1ZM491 149.55h1V159.23h-1ZM492 148.82h1V159.69h-1ZM493 148.09h1V158.13h-1ZM494 147.36h1V161.30h-1ZM495 146.61h1V157.97h-1ZM496 145.82h1V158.38h-1ZM497 145.04h1V146.14h-1ZM498 144.25h1V145.54h-1ZM499 143.63h1V144.39h-1ZM500 143.39h1V144.10h-1ZM501 143.16h1V143.56h-1ZM502 142.92h1V143.19h-1ZM503 142.69h1V143.09h-1ZM504 142.45h1V161.30h-1ZM505 142.22h1V157.18h-1ZM506 141.98h1V142.51h-1ZM507 141.75h1V143.20h-1ZM508 141.52h1V141.72h-1ZM509 141.28h1V141.67h-1ZM510 141.05h1V160.38h-1ZM511 140.82h1V141.85h-1ZM512 140.59h1V140.93h-1ZM513 140.36h1V141.49h-1ZM514 140.13h1V141.49h-1ZM515 139.90h1V139.96h-1ZM516 139.67h1V161.30h-1ZM517 139.44h1V158.71h-1ZM518 139.21h1V161.30h-1ZM519 138.98h1V161.30h-1ZM520 138.75h1V161.30h-1ZM521 138.52h1V140.28h-1ZM522 138.28h1V138.68h-1ZM523 138.05h1V138.42h-1ZM524 137.82h1V139.19h-1ZM525 137.62h1V161.30h-1ZM526 137.42h1V161.30h-1ZM527 137.22h1V160.97h-1ZM528 137.02h1V161.30h-1ZM529 136.82h1V137.81h-1ZM530 136.62h1V137.80h-1ZM531 136.42h1V136.51h-1ZM532 136.22h1V159.65h-1ZM533 136.02h1V161.30h-1ZM534 135.82h1V136.94h-1ZM535 135.62h1V137.60h-1ZM536 135.42h1V136.16h-1ZM537 135.22h1V159.48h-1ZM538 135.02h1V161.30h-1ZM539 134.82h1V136.46h-1ZM540 134.62h1V157.39h-1ZM541 134.42h1V135.06h-1ZM542 134.17h1V134.35h-1ZM543 133.92h1V135.79h-1ZM544 133.66h1V159.05h-1ZM545 133.41h1V161.30h-1ZM546 133.16h1V156.20h-1ZM547 132.90h1V133.00h-1ZM548 132.25h1V134.32h-1ZM549 129.98h1V131.82h-1ZM550 127.71h1V128.08h-1ZM551 113.87h1V115.79h-1ZM552 103.10h1V161.30h-1ZM553 103.10h1V161.30h-1ZM554 103.10h1V161.30h-1ZM555 103.10h1V161.30h-1ZM556 103.15h1V149.69h-1ZM557 103.26h1V161.30h-1ZM558 103.94h1V161.30h-1ZM559 104.04h1V161.30h-1ZM560 103.83h1V155.37h-1ZM561 104.22h1V161.30h-1ZM562 103.90h1V161.30h-1ZM563 103.20h1V161.30h-1ZM564 103.48h1V160.88h-1ZM565 103.52h1V161.20h-1ZM566 103.28h1V159.18h-1ZM567 103.25h1V160.39h-1ZM568 103.38h1V157.49h-1ZM569 106.88h1V156.64h-1ZM570 103.31h1V161.27h-1ZM571 108.56h1V154.95h-1ZM572 103.75h1V160.46h-1ZM573 103.60h1V153.25h-1ZM574 111.08h1V160.58h-1ZM575 104.37h1V151.30h-1ZM576 104.36h1V159.32h-1ZM577 114.56h1V149.30h-1ZM578 103.50h1V160.56h-1ZM579 105.09h1V147.30h-1ZM580 104.26h1V157.08h-1ZM581 119.46h1V158.19h-1ZM582 120.69h1V144.30h-1ZM583 104.35h1V143.50h-1ZM584 122.07h1V142.91h-1ZM585 122.58h1V161.29h-1ZM586 105.62h1V141.72h-1ZM587 105.29h1V158.96h-1ZM588 124.12h1V140.53h-1ZM589 105.00h1V139.93h-1ZM590 104.01h1V139.34h-1ZM591 125.69h1V158.72h-1ZM592 103.97h1V138.15h-1ZM593 103.78h1V137.55h-1ZM594 106.32h1V155.16h-1ZM595 106.61h1V136.72h-1ZM596 103.29h1V156.83h-1ZM597 105.62h1V136.31h-1ZM598 129.71h1V160.02h-1ZM601 103.10h1V103.16h-1ZM602 103.12h1V103.19h-1ZM603 103.13h1V103.21h-1ZM604 103.11h1V103.24h-1ZM605 103.13h1V103.26h-1ZM606 103.11h1V103.29h-1ZM607 103.13h1V103.31h-1ZM608 103.12h1V103.34h-1ZM609 103.11h1V103.36h-1ZM610 103.11h1V103.39h-1ZM611 103.12h1V103.41h-1ZM612 103.18h1V103.44h-1ZM613 103.15h1V103.46h-1ZM614 103.12h1V103.49h-1ZM615 103.33h1V104.01h-1ZM616 103.12h1V103.77h-1ZM617 103.11h1V103.72h-1ZM618 103.12h1V104.09h-1ZM619 103.17h1V104.20h-1ZM620 103.46h1V104.74h-1ZM621 103.31h1V105.13h-1ZM622 103.35h1V105.01h-1ZM623 103.28h1V105.20h-1ZM624 103.24h1V105.14h-1ZM625 103.20h1V106.29h-1ZM626 103.57h1V106.08h-1ZM627 103.29h1V106.69h-1ZM628 103.30h1V106.35h-1ZM629 103.50h1V106.72h-1ZM630 104.04h1V107.53h-1ZM631 103.13h1V107.70h-1ZM632 103.81h1V107.11h-1ZM633 103.71h1V108.22h-1ZM634 103.10h1V108.16h-1ZM635 104.28h1V108.19h-1ZM636 104.33h1V108.85h-1ZM637 103.48h1V109.23h-1ZM638 103.31h1V108.59h-1ZM639 104.15h1V109.23h-1ZM640 104.42h1V109.87h-1ZM641 108.51h1V109.92h-1ZM642 103.54h1V109.42h-1ZM643 103.78h1V110.53h-1ZM644 109.06h1V110.35h-1ZM645 108.52h1V111.78h-1ZM646 104.19h1V112.47h-1ZM647 103.13h1V113.84h-1ZM648 115.12h1V115.94h-1ZM649 105.27h1V118.31h-1ZM650 118.85h1V119.93h-1ZM651 115.26h1V123.10h-1ZM652 105.97h1V125.90h-1ZM653 109.93h1V127.71h-1ZM654 121.21h1V128.31h-1ZM655 104.65h1V129.13h-1ZM656 107.20h1V130.14h-1ZM657 105.63h1V130.18h-1ZM658 122.50h1V131.73h-1ZM659 130.71h1V132.69h-1ZM660 123.68h1V133.44h-1ZM661 112.00h1V134.38h-1ZM662 124.70h1V135.12h-1ZM663 124.03h1V136.97h-1ZM448 225.65h1V226.30h-1ZM449 225.85h1V226.30h-1ZM450 226.16h1V226.30h-1ZM451 225.26h1V226.30h-1ZM454 223.36h1V226.30h-1ZM456 223.28h1V223.89h-1ZM457 222.22h1V226.30h-1ZM458 221.83h1V226.30h-1ZM460 221.07h1V225.04h-1ZM461 220.69h1V224.53h-1ZM463 219.93h1V226.30h-1ZM465 225.35h1V226.30h-1ZM467 217.88h1V225.05h-1ZM468 223.51h1V226.30h-1ZM469 216.62h1V226.30h-1ZM470 215.99h1V222.35h-1ZM471 223.86h1V226.30h-1ZM473 220.15h1V226.30h-1ZM474 213.47h1V226.30h-1ZM475 212.84h1V222.98h-1ZM477 211.58h1V226.30h-1ZM478 220.19h1V226.30h-1ZM479 223.05h1V226.30h-1ZM480 224.52h1V226.30h-1ZM482 223.53h1V226.30h-1ZM483 222.81h1V226.30h-1ZM485 205.54h1V226.30h-1ZM487 214.01h1V226.30h-1ZM493 200.41h1V226.30h-1ZM494 200.05h1V209.09h-1ZM495 199.68h1V213.18h-1ZM504 168.90h1V226.30h-1ZM505 168.90h1V226.30h-1ZM506 168.90h1V226.30h-1ZM507 169.85h1V226.30h-1ZM508 169.16h1V226.30h-1ZM509 168.90h1V226.30h-1ZM510 169.78h1V226.30h-1ZM511 168.90h1V226.30h-1ZM512 170.17h1V226.30h-1ZM513 170.37h1V226.30h-1ZM514 168.90h1V226.30h-1ZM515 168.90h1V226.30h-1ZM516 169.91h1V226.30h-1ZM517 168.90h1V226.30h-1ZM518 168.90h1V226.30h-1ZM519 170.61h1V226.30h-1ZM520 169.07h1V226.30h-1ZM521 169.00h1V224.93h-1ZM522 169.63h1V224.66h-1ZM523 171.45h1V224.15h-1ZM524 168.98h1V222.40h-1ZM525 169.15h1V224.59h-1ZM526 173.41h1V226.30h-1ZM527 169.20h1V226.30h-1ZM528 171.14h1V226.30h-1ZM529 176.00h1V221.46h-1ZM530 177.00h1V217.57h-1ZM531 171.37h1V225.82h-1ZM532 169.37h1V215.88h-1ZM533 180.51h1V224.42h-1ZM534 173.50h1V213.73h-1ZM535 171.18h1V225.16h-1ZM536 172.56h1V210.27h-1ZM537 186.19h1V208.53h-1ZM538 187.89h1V224.82h-1ZM539 177.15h1V222.07h-1ZM540 191.83h1V203.74h-1ZM541 193.80h1V202.82h-1ZM542 193.89h1V226.14h-1ZM543 193.98h1V200.98h-1ZM544 170.96h1V222.56h-1ZM545 171.36h1V199.50h-1ZM546 172.98h1V199.30h-1ZM547 194.35h1V222.68h-1ZM561 169.35h1V169.44h-1ZM562 168.92h1V170.53h-1ZM563 170.51h1V170.66h-1ZM564 169.65h1V172.70h-1ZM565 172.64h1V173.79h-1ZM566 170.01h1V174.87h-1ZM567 174.54h1V175.96h-1ZM568 173.35h1V173.85h-1ZM569 173.71h1V174.69h-1ZM570 170.43h1V178.71h-1ZM571 169.01h1V172.88h-1ZM572 169.02h1V180.49h-1ZM573 170.13h1V177.24h-1ZM574 175.72h1V178.38h-1ZM575 169.04h1V173.94h-1ZM576 179.02h1V179.58h-1ZM577 171.93h1V184.91h-1ZM578 168.99h1V185.80h-1ZM579 183.13h1V186.46h-1ZM580 177.81h1V178.96h-1ZM581 172.55h1V187.79h-1ZM582 171.30h1V180.02h-1ZM583 169.29h1V176.69h-1ZM584 171.47h1V189.78h-1ZM585 173.38h1V190.44h-1ZM586 170.62h1V178.71h-1ZM587 173.41h1V191.77h-1ZM588 171.26h1V192.43h-1ZM589 174.73h1V177.13h-1ZM590 189.60h1V193.24h-1ZM591 170.27h1V179.18h-1ZM592 170.94h1V193.91h-1ZM593 180.91h1V184.90h-1ZM594 170.65h1V184.04h-1ZM595 173.47h1V194.92h-1ZM596 171.05h1V195.26h-1ZM597 175.41h1V195.59h-1ZM598 171.23h1V178.38h-1ZM599 173.27h1V196.28h-1ZM600 169.14h1V196.70h-1ZM601 185.14h1V187.15h-1ZM602 174.21h1V197.54h-1ZM603 192.92h1V197.96h-1ZM604 188.76h1V190.72h-1ZM605 171.24h1V198.80h-1ZM606 196.61h1V199.22h-1ZM607 173.67h1V199.62h-1ZM608 172.76h1V192.52h-1ZM609 190.97h1V199.92h-1ZM633 168.99h1V169.13h-1ZM634 169.00h1V169.17h-1ZM635 169.14h1V169.72h-1ZM636 169.39h1V169.94h-1ZM637 169.36h1V170.70h-1ZM638 169.42h1V169.63h-1ZM639 170.38h1V170.87h-1ZM640 170.14h1V170.47h-1ZM641 169.33h1V170.70h-1ZM642 170.32h1V171.19h-1ZM643 169.23h1V169.78h-1ZM644 169.47h1V170.08h-1ZM645 169.47h1V172.08h-1ZM646 169.82h1V171.07h-1ZM647 169.00h1V172.52h-1ZM648 169.22h1V171.09h-1ZM649 170.74h1V172.16h-1ZM650 169.53h1V173.63h-1ZM651 169.91h1V170.62h-1ZM652 170.99h1V173.45h-1ZM653 170.45h1V175.86h-1ZM654 172.86h1V175.98h-1ZM655 171.02h1V176.22h-1ZM656 169.46h1V178.73h-1ZM657 171.08h1V184.70h-1ZM658 173.80h1V176.03h-1ZM659 177.29h1V179.55h-1ZM660 170.48h1V174.63h-1ZM661 186.03h1V193.88h-1ZM662 174.52h1V179.65h-1ZM663 170.26h1V177.05h-1Z"/>
<path fill="#0000ff" d="M447 161.22h1V161.30h-1ZM450 160.14h1V161.30h-1ZM451 161.10h1V161.30h-1ZM452 161.09h1V161.30h-1ZM453 161.24h1V161.30h-1ZM454 161.21h1V161.30h-1ZM455 161.10h1V161.30h-1ZM456 161.14h1V161.30h-1ZM457 158.81h1V161.30h-1ZM458 161.05h1V161.30h-1ZM459 161.10h1V161.30h-1ZM460 161.05h1V161.30h-1ZM461 161.02h1V161.30h-1ZM462 157.53h1V161.30h-1ZM463 157.31h1V161.30h-1ZM464 160.84h1V161.30h-1ZM465 161.08h1V161.30h-1ZM466 160.91h1V161.30h-1ZM467 161.22h1V161.30h-1ZM468 161.11h1V161.30h-1ZM469 160.68h1V161.30h-1ZM470 160.83h1V161.30h-1ZM471 160.50h1V161.30h-1ZM472 160.74h1V161.30h-1ZM473 160.81h1V161.30h-1ZM474 160.86h1V161.30h-1ZM475 160.81h1V161.30h-1ZM476 160.56h1V161.30h-1ZM477 160.27h1V161.30h-1ZM478 156.61h1V161.30h-1ZM479 161.14h1V161.30h-1ZM480 153.33h1V161.30h-1ZM481 159.56h1V161.30h-1ZM482 160.16h1V161.30h-1ZM483 154.72h1V161.30h-1ZM484 153.27h1V161.30h-1ZM485 152.52h1V161.30h-1ZM486 159.91h1V161.30h-1ZM487 161.07h1V161.30h-1ZM488 160.54h1V161.30h-1ZM489 161.00h1V161.30h-1ZM490 150.92h1V161.30h-1ZM491 159.23h1V161.30h-1ZM492 159.69h1V161.30h-1ZM493 158.13h1V161.30h-1ZM495 157.97h1V161.30h-1ZM496 158.38h1V161.30h-1ZM497 146.14h1V161.30h-1ZM498 145.54h1V161.30h-1ZM499 144.39h1V161.30h-1ZM500 144.10h1V161.30h-1ZM501 143.56h1V161.30h-1ZM502 143.19h1V161.30h-1ZM503 143.09h1V161.30h-1ZM505 157.18h1V161.30h-1ZM506 142.51h1V161.30h-1ZM507 143.20h1V161.30h-1ZM508 141.72h1V161.30h-1ZM509 141.67h1V161.30h-1ZM510 160.38h1V161.30h-1ZM511 141.85h1V161.30h-1ZM512 140.93h1V161.30h-1ZM513 141.49h1V161.30h-1ZM514 141.49h1V161.30h-1ZM515 139.96h1V161.30h-1ZM517 158.71h1V161.30h-1ZM521 140.28h1V161.30h-1ZM522 138.68h1V161.30h-1ZM523 138.42h1V161.30h-1ZM524 139.19h1V161.30h-1ZM527 160.97h1V161.30h-1ZM529 137.81h1V161.30h-1ZM530 137.80h1V161.30h-1ZM531 136.51h1V161.30h-1ZM532 159.65h1V161.30h-1ZM534 136.94h1V161.30h-1ZM535 137.60h1V161.30h-1ZM536 136.16h1V161.30h-1ZM537 159.48h1V161.30h-1ZM539 136.46h1V161.30h-1ZM540 157.39h1V161.30h-1ZM541 135.06h1V161.30h-1ZM542 134.35h1V161.30h-1ZM543 135.79h1V161.30h-1ZM544 159.05h1V161.30h-1ZM546 156.20h1V161.30h-1ZM547 133.00h1V161.30h-1ZM548 134.32h1V161.30h-1ZM549 131.82h1V161.30h-1ZM550 128.08h1V161.30h-1ZM551 115.79h1V161.30h-1ZM556 149.69h1V161.30h-1ZM560 155.37h1V161.30h-1ZM564 160.88h1V161.30h-1ZM565 161.20h1V161.30h-1ZM566 159.18h1V161.30h-1ZM567 160.39h1V161.30h-1ZM568 157.49h1V161.30h-1ZM569 156.64h1V161.30h-1ZM571 154.95h1V161.30h-1ZM572 160.46h1V161.30h-1ZM573 153.25h1V161.30h-1ZM574 160.58h1V161.30h-1ZM575 151.30h1V161.30h-1ZM576 159.32h1V161.30h-1ZM577 149.30h1V161.30h-1ZM578 160.56h1V161.30h-1ZM579 147.30h1V161.30h-1ZM580 157.08h1V161.30h-1ZM581 158.19h1V161.30h-1ZM582 144.30h1V161.30h-1ZM583 143.50h1V161.30h-1ZM584 142.91h1V161.30h-1ZM586 141.72h1V161.30h-1ZM587 158.96h1V161.30h-1ZM588 140.53h1V161.30h-1ZM589 139.93h1V161.30h-1ZM590 139.34h1V161.30h-1ZM591 158.72h1V161.30h-1ZM592 138.15h1V161.30h-1ZM593 137.55h1V161.30h-1ZM594 155.16h1V161.30h-1ZM595 136.72h1V161.30h-1ZM596 156.83h1V161.30h-1ZM597 136.31h1V161.30h-1ZM598 160.02h1V161.30h-1ZM599 103.11h1V161.30h-1ZM600 103.14h1V161.30h-1ZM601 103.16h1V161.30h-1ZM602 103.19h1V161.30h-1ZM603 103.21h1V161.30h-1ZM604 103.24h1V161.30h-1ZM605 103.26h1V161.30h-1ZM606 103.29h1V161.30h-1ZM607 103.31h1V161.30h-1ZM608 103.34h1V161.30h-1ZM609 103.36h1V161.30h-1ZM610 103.39h1V161.30h-1ZM611 103.41h1V161.30h-1ZM612 103.44h1V161.30h-1ZM613 103.46h1V161.30h-1ZM614 103.49h1V161.30h-1ZM615 104.01h1V161.30h-1ZM616 103.77h1V161.30h-1ZM617 103.72h1V161.30h-1ZM618 104.09h1V161.30h-1ZM619 104.20h1V161.30h-1ZM620 104.74h1V161.30h-1ZM621 105.13h1V161.30h-1ZM622 105.01h1V161.30h-1ZM623 105.20h1V161.30h-1ZM624 105.14h1V161.30h-1ZM625 106.29h1V161.30h-1ZM626 106.08h1V161.30h-1ZM627 106.69h1V161.30h-1ZM628 106.35h1V161.30h-1ZM629 106.72h1V161.30h-1ZM630 107.53h1V161.30h-1ZM631 107.70h1V161.30h-1ZM632 107.11h1V161.30h-1ZM633 108.22h1V161.30h-1ZM634 108.16h1V161.30h-1ZM635 108.19h1V161.30h-1ZM636 108.85h1V161.30h-1ZM637 109.23h1V161.30h-1ZM638 108.59h1V161.30h-1ZM639 109.23h1V161.30h-1ZM640 109.87h1V161.30h-1ZM641 109.92h1V161.30h-1ZM642 109.42h1V161.30h-1ZM643 110.53h1V161.30h-1ZM644 110.35h1V161.30h-1ZM645 111.78h1V161.30h-1ZM646 112.47h1V161.30h-1ZM647 113.84h1V161.30h-1ZM648 115.94h1V161.30h-1ZM649 118.31h1V161.30h-1ZM650 119.93h1V161.30h-1ZM651 123.10h1V161.30h-1ZM652 125.90h1V161.30h-1ZM653 127.71h1V161.30h-1ZM654 128.31h1V161.30h-1ZM655 129.13h1V161.30h-1ZM656 130.14h1V161.30h-1ZM657 130.18h1V161.30h-1ZM658 131.73h1V161.30h-1ZM659 132.69h1V161.30h-1ZM660 133.44h1V161.30h-1ZM661 134.38h1V161.30h-1ZM662 135.12h1V161.30h-1ZM663 136.97h1V161.30h-1ZM447 226.03h1V226.30h-1ZM449 225.27h1V225.85h-1ZM450 224.89h1V226.16h-1ZM451 224.51h1V225.26h-1ZM452 224.12h1V226.30h-1ZM455 222.98h1V226.30h-1ZM461 224.53h1V226.30h-1ZM462 220.31h1V226.30h-1ZM464 219.54h1V226.30h-1ZM465 219.14h1V225.35h-1ZM466 218.51h1V226.30h-1ZM467 225.05h1V226.30h-1ZM468 217.25h1V223.51h-1ZM470 222.35h1V226.30h-1ZM471 215.36h1V223.86h-1ZM472 214.73h1V226.30h-1ZM473 214.10h1V220.15h-1ZM475 222.98h1V226.30h-1ZM476 212.21h1V226.30h-1ZM478 210.95h1V220.19h-1ZM479 210.23h1V223.05h-1ZM480 209.45h1V224.52h-1ZM481 208.67h1V226.30h-1ZM482 207.89h1V223.53h-1ZM483 207.11h1V222.81h-1ZM484 206.32h1V226.30h-1ZM486 204.76h1V226.30h-1ZM487 203.98h1V214.01h-1ZM488 203.20h1V226.30h-1ZM489 202.42h1V216.01h-1ZM491 201.14h1V226.30h-1ZM495 213.18h1V226.30h-1ZM496 199.32h1V226.30h-1ZM497 198.95h1V226.30h-1ZM498 198.58h1V226.30h-1ZM500 197.11h1V226.30h-1ZM501 194.87h1V226.30h-1ZM502 192.64h1V226.30h-1ZM529 221.46h1V226.30h-1ZM530 217.57h1V221.18h-1ZM531 225.82h1V226.30h-1ZM532 215.88h1V226.30h-1ZM533 224.42h1V226.30h-1ZM534 213.73h1V226.30h-1ZM535 225.16h1V226.30h-1ZM536 210.27h1V226.30h-1ZM537 208.53h1V226.30h-1ZM538 224.82h1V226.30h-1ZM539 222.07h1V226.30h-1ZM540 203.74h1V212.87h-1ZM543 200.98h1V223.46h-1ZM545 199.50h1V219.51h-1ZM546 199.30h1V219.59h-1ZM547 222.68h1V226.30h-1ZM548 168.90h1V226.30h-1ZM549 168.90h1V226.30h-1ZM550 168.90h1V226.30h-1ZM551 168.90h1V226.30h-1ZM552 168.90h1V226.30h-1ZM553 168.90h1V226.30h-1ZM554 168.90h1V226.30h-1ZM555 168.90h1V226.30h-1ZM556 168.90h1V226.30h-1ZM557 168.90h1V226.30h-1ZM558 168.90h1V226.30h-1ZM559 168.90h1V226.30h-1ZM560 168.90h1V226.18h-1ZM561 169.44h1V224.65h-1ZM562 170.53h1V223.55h-1ZM563 170.66h1V222.45h-1ZM564 172.70h1V225.91h-1ZM565 173.79h1V226.27h-1ZM566 174.87h1V224.70h-1ZM567 175.96h1V218.05h-1ZM568 173.85h1V225.01h-1ZM569 174.69h1V224.62h-1ZM570 178.71h1V215.76h-1ZM571 172.88h1V225.14h-1ZM572 180.49h1V224.03h-1ZM573 177.24h1V213.68h-1ZM574 178.38h1V222.65h-1ZM575 173.94h1V212.29h-1ZM576 179.58h1V225.03h-1ZM577 184.91h1V210.87h-1ZM578 185.80h1V210.15h-1ZM579 186.46h1V209.44h-1ZM580 178.96h1V208.72h-1ZM581 187.79h1V208.00h-1ZM582 180.02h1V207.29h-1ZM583 176.69h1V220.51h-1ZM584 189.78h1V225.17h-1ZM585 190.44h1V205.40h-1ZM586 178.71h1V225.59h-1ZM587 191.77h1V221.13h-1ZM588 192.43h1V203.90h-1ZM589 177.13h1V203.40h-1ZM590 193.24h1V202.90h-1ZM591 179.18h1V220.90h-1ZM592 193.91h1V201.90h-1ZM593 184.90h1V201.40h-1ZM594 184.04h1V224.53h-1ZM595 194.92h1V225.16h-1ZM596 195.26h1V225.12h-1ZM597 195.59h1V225.56h-1ZM598 178.38h1V221.03h-1ZM599 196.28h1V202.55h-1ZM600 196.70h1V202.77h-1ZM601 187.15h1V225.31h-1ZM602 197.54h1V223.32h-1ZM603 197.96h1V203.44h-1ZM604 190.72h1V221.68h-1ZM605 198.80h1V225.64h-1ZM606 199.22h1V224.63h-1ZM607 199.62h1V204.33h-1ZM608 192.52h1V223.77h-1ZM609 199.92h1V225.27h-1ZM633 169.13h1V169.82h-1ZM634 169.17h1V169.41h-1ZM635 169.72h1V170.30h-1ZM636 169.94h1V170.68h-1ZM637 170.70h1V171.07h-1ZM638 169.63h1V170.79h-1ZM639 170.87h1V171.65h-1ZM640 170.47h1V171.20h-1ZM641 170.70h1V171.61h-1ZM642 171.19h1V171.80h-1ZM643 169.78h1V172.45h-1ZM644 170.08h1V172.19h-1ZM645 172.08h1V172.45h-1ZM646 171.07h1V173.31h-1ZM647 172.52h1V173.32h-1ZM648 171.09h1V173.37h-1ZM649 172.16h1V174.11h-1ZM650 173.63h1V174.16h-1ZM651 170.62h1V174.28h-1ZM652 173.45h1V174.61h-1ZM654 175.98h1V177.71h-1ZM655 176.22h1V180.04h-1ZM656 178.73h1V182.74h-1ZM657 184.70h1V185.46h-1ZM658 176.03h1V188.03h-1ZM659 179.55h1V190.48h-1ZM660 174.63h1V192.93h-1ZM661 193.88h1V196.09h-1ZM662 179.65h1V197.26h-1ZM663 177.05h1V198.36h-1Z"/>
<path fill="#ffff00" d="M456 223.89h1V226.30h-1ZM460 225.04h1V226.30h-1ZM489 216.01h1V226.30h-1ZM494 209.09h1V226.30h-1ZM521 224.93h1V226.30h-1ZM522 224.66h1V226.30h-1ZM523 224.15h1V226.30h-1ZM524 222.40h1V226.30h-1ZM525 224.59h1V226.30h-1ZM530 221.18h1V226.30h-1ZM540 212.87h1V226.30h-1ZM543 223.46h1V226.30h-1ZM545 219.51h1V226.30h-1ZM546 219.59h1V226.30h-1ZM560 226.18h1V226.30h-1ZM561 224.65h1V226.30h-1ZM562 223.55h1V226.30h-1ZM563 222.45h1V226.30h-1ZM564 225.91h1V226.30h-1ZM566 224.70h1V226.30h-1ZM567 218.05h1V226.30h-1ZM568 225.01h1V226.30h-1ZM569 224.62h1V226.30h-1ZM570 215.76h1V226.30h-1ZM571 225.14h1V226.30h-1ZM572 224.03h1V226.30h-1ZM573 213.68h1V226.30h-1ZM574 222.65h1V226.30h-1ZM575 212.29h1V226.30h-1ZM576 225.03h1V226.30h-1ZM577 210.87h1V226.30h-1ZM578 210.15h1V226.30h-1ZM579 209.44h1V226.30h-1ZM580 208.72h1V226.30h-1ZM581 208.00h1V226.30h-1ZM582 207.29h1V226.30h-1ZM583 220.51h1V226.30h-1ZM584 225.17h1V226.30h-1ZM585 205.40h1V226.30h-1ZM586 225.59h1V226.30h-1ZM587 221.13h1V226.30h-1ZM588 203.90h1V226.30h-1ZM589 203.40h1V226.30h-1ZM590 202.90h1V226.30h-1ZM591 220.90h1V226.30h-1ZM592 201.90h1V226.30h-1ZM593 201.40h1V226.30h-1ZM594 224.53h1V226.30h-1ZM595 225.16h1V226.30h-1ZM596 225.12h1V226.30h-1ZM597 225.56h1V226.30h-1ZM598 221.03h1V226.30h-1ZM599 202.55h1V226.30h-1ZM600 202.77h1V226.30h-1ZM601 225.31h1V226.30h-1ZM602 223.32h1V226.30h-1ZM603 203.44h1V226.30h-1ZM604 221.68h1V226.30h-1ZM605 225.64h1V226.30h-1ZM606 224.63h1V226.30h-1ZM607 204.33h1V226.30h-1ZM608 223.77h1V226.30h-1ZM609 225.27h1V226.30h-1ZM610 168.92h1V226.30h-1ZM611 168.94h1V226.30h-1ZM612 168.96h1V226.30h-1ZM613 168.98h1V226.30h-1ZM614 169.00h1V226.30h-1ZM615 169.03h1V226.30h-1ZM616 169.05h1V226.30h-1ZM617 169.07h1V226.30h-1ZM618 169.09h1V226.30h-1ZM619 169.11h1V226.30h-1ZM620 169.13h1V226.30h-1ZM621 169.15h1V226.30h-1ZM622 169.18h1V226.30h-1ZM623 169.20h1V226.30h-1ZM624 169.22h1V226.30h-1ZM625 169.24h1V226.30h-1ZM626 169.26h1V226.30h-1ZM627 169.28h1V226.30h-1ZM628 169.30h1V226.30h-1ZM629 169.33h1V226.30h-1ZM630 169.35h1V226.30h-1ZM631 169.37h1V226.30h-1ZM632 169.39h1V226.30h-1ZM633 169.82h1V226.30h-1ZM634 169.41h1V226.30h-1ZM635 170.30h1V226.30h-1ZM636 170.68h1V226.30h-1ZM637 171.07h1V226.30h-1ZM638 170.79h1V226.30h-1ZM639 171.65h1V226.30h-1ZM640 171.20h1V226.30h-1ZM641 171.61h1V226.30h-1ZM642 171.80h1V226.30h-1ZM643 172.45h1V226.30h-1ZM644 172.19h1V226.30h-1ZM645 172.45h1V226.30h-1ZM646 173.31h1V226.30h-1ZM647 173.32h1V226.30h-1ZM648 173.37h1V226.30h-1ZM649 174.11h1V226.30h-1ZM650 174.16h1V226.30h-1ZM651 174.28h1V226.30h-1ZM652 174.61h1V226.30h-1ZM653 175.88h1V226.30h-1ZM654 177.71h1V226.30h-1ZM655 180.04h1V226.30h-1ZM656 182.74h1V226.30h-1ZM657 185.46h1V226.30h-1ZM658 188.03h1V226.30h-1ZM659 190.48h1V226.30h-1ZM660 192.93h1V226.30h-1ZM661 196.09h1V226.30h-1ZM662 197.26h1V226.30h-1ZM663 198.36h1V226.30h-1Z"/>
<path fill="#808080" d="M453 223.74h1V226.30h-1ZM456 222.60h1V223.28h-1ZM459 221.45h1V226.30h-1ZM490 201.63h1V226.30h-1ZM492 200.78h1V226.30h-1ZM499 198.22h1V226.30h-1ZM503 190.40h1V226.30h-1ZM541 202.82h1V226.30h-1ZM542 226.14h1V226.30h-1ZM544 222.56h1V226.30h-1Z"/>
<line x1="413.2" y1="36.0" x2="413.2" y2="96.3" stroke="#333" stroke-width="0.8"/>
<line x1="413" y1="96.7" x2="665" y2="96.7" stroke="#777" stroke-width="0.9"/>
<line x1="411" y1="36.5" x2="413.2" y2="36.5" stroke="#333" stroke-width="0.8"/>
<text x="407" y="39.3" font-size="8" fill="#222" stroke="#222" stroke-width="0.25" text-anchor="end">1.00</text>
<line x1="411" y1="48.5" x2="413.2" y2="48.5" stroke="#333" stroke-width="0.8"/>
<text x="407" y="51.3" font-size="8" fill="#222" stroke="#222" stroke-width="0.25" text-anchor="end">0.80</text>
<line x1="411" y1="60.4" x2="413.2" y2="60.4" stroke="#333" stroke-width="0.8"/>
<text x="407" y="63.2" font-size="8" fill="#222" stroke="#222" stroke-width="0.25" text-anchor="end">0.60</text>
<line x1="411" y1="72.4" x2="413.2" y2="72.4" stroke="#333" stroke-width="0.8"/>
<text x="407" y="75.2" font-size="8" fill="#222" stroke="#222" stroke-width="0.25" text-anchor="end">0.40</text>
<line x1="411" y1="84.3" x2="413.2" y2="84.3" stroke="#333" stroke-width="0.8"/>
<text x="407" y="87.1" font-size="8" fill="#222" stroke="#222" stroke-width="0.25" text-anchor="end">0.20</text>
<line x1="411" y1="96.3" x2="413.2" y2="96.3" stroke="#333" stroke-width="0.8"/>
<text x="407" y="99.1" font-size="8" fill="#222" stroke="#222" stroke-width="0.25" text-anchor="end">0.00</text>
<line x1="413.2" y1="102.6" x2="413.2" y2="161.3" stroke="#333" stroke-width="0.8"/>
<line x1="413" y1="161.70000000000002" x2="665" y2="161.70000000000002" stroke="#777" stroke-width="0.9"/>
<line x1="411" y1="103.1" x2="413.2" y2="103.1" stroke="#333" stroke-width="0.8"/>
<text x="407" y="105.9" font-size="8" fill="#222" stroke="#222" stroke-width="0.25" text-anchor="end">1.00</text>
<line x1="411" y1="114.7" x2="413.2" y2="114.7" stroke="#333" stroke-width="0.8"/>
<text x="407" y="117.5" font-size="8" fill="#222" stroke="#222" stroke-width="0.25" text-anchor="end">0.80</text>
<line x1="411" y1="126.4" x2="413.2" y2="126.4" stroke="#333" stroke-width="0.8"/>
<text x="407" y="129.2" font-size="8" fill="#222" stroke="#222" stroke-width="0.25" text-anchor="end">0.60</text>
<line x1="411" y1="138.0" x2="413.2" y2="138.0" stroke="#333" stroke-width="0.8"/>
<text x="407" y="140.8" font-size="8" fill="#222" stroke="#222" stroke-width="0.25" text-anchor="end">0.40</text>
<line x1="411" y1="149.7" x2="413.2" y2="149.7" stroke="#333" stroke-width="0.8"/>
<text x="407" y="152.5" font-size="8" fill="#222" stroke="#222" stroke-width="0.25" text-anchor="end">0.20</text>
<line x1="411" y1="161.3" x2="413.2" y2="161.3" stroke="#333" stroke-width="0.8"/>
<text x="407" y="164.1" font-size="8" fill="#222" stroke="#222" stroke-width="0.25" text-anchor="end">0.00</text>
<line x1="413.2" y1="168.4" x2="413.2" y2="226.3" stroke="#333" stroke-width="0.8"/>
<line x1="413" y1="226.70000000000002" x2="665" y2="226.70000000000002" stroke="#777" stroke-width="0.9"/>
<line x1="411" y1="168.9" x2="413.2" y2="168.9" stroke="#333" stroke-width="0.8"/>
<text x="407" y="171.7" font-size="8" fill="#222" stroke="#222" stroke-width="0.25" text-anchor="end">1.00</text>
<line x1="411" y1="180.4" x2="413.2" y2="180.4" stroke="#333" stroke-width="0.8"/>
<text x="407" y="183.2" font-size="8" fill="#222" stroke="#222" stroke-width="0.25" text-anchor="end">0.80</text>
<line x1="411" y1="191.9" x2="413.2" y2="191.9" stroke="#333" stroke-width="0.8"/>
<text x="407" y="194.7" font-size="8" fill="#222" stroke="#222" stroke-width="0.25" text-anchor="end">0.60</text>
<line x1="411" y1="203.3" x2="413.2" y2="203.3" stroke="#333" stroke-width="0.8"/>
<text x="407" y="206.1" font-size="8" fill="#222" stroke="#222" stroke-width="0.25" text-anchor="end">0.40</text>
<line x1="411" y1="214.8" x2="413.2" y2="214.8" stroke="#333" stroke-width="0.8"/>
<text x="407" y="217.6" font-size="8" fill="#222" stroke="#222" stroke-width="0.25" text-anchor="end">0.20</text>
<line x1="411" y1="226.3" x2="413.2" y2="226.3" stroke="#333" stroke-width="0.8"/>
<text x="407" y="229.1" font-size="8" fill="#222" stroke="#222" stroke-width="0.25" text-anchor="end">0.00</text>
<text x="673" y="76.2" font-size="16.5" fill="#000" stroke="#000" stroke-width="0.35" textLength="33" lengthAdjust="spacingAndGlyphs">K=2</text>
<text x="675.3" y="140.4" font-size="16.5" fill="#000" stroke="#000" stroke-width="0.35" textLength="33" lengthAdjust="spacingAndGlyphs">K=3</text>
<text x="673" y="205.7" font-size="16.5" fill="#000" stroke="#000" stroke-width="0.35" textLength="33" lengthAdjust="spacingAndGlyphs">K=4</text>
<path d="M159.18 383.36L156.15 379.39M164.21 374.75A36.00 36.00 0 0 0 149.55 385.94M164.21 374.75L162.30 370.13M163.18 369.77A41.00 41.00 0 0 0 161.42 370.50M163.18 369.77L162.50 368.00M163.12 367.76A42.90 42.90 0 0 0 161.88 368.24M163.12 367.76L162.34 365.64M162.78 365.48A45.16 45.16 0 0 0 161.90 365.80M162.78 365.48L128.62 270.07M161.90 365.80L125.77 271.13M161.88 368.24L122.94 272.24M161.42 370.50L160.90 369.33M161.30 369.15A42.28 42.28 0 0 0 160.50 369.51M161.30 369.15L120.14 273.41M160.50 369.51L117.37 274.64M149.55 385.94L141.64 379.82M155.19 368.05A46.00 46.00 0 0 0 133.63 395.87M155.19 368.05L153.15 364.46M155.15 363.38A50.13 50.13 0 0 0 151.20 365.63M155.15 363.38L154.15 361.44M153.43 361.81A52.32 52.32 0 0 1 154.88 361.07M153.43 361.81L109.20 278.66M154.88 361.07L152.67 356.59M152.14 356.85A57.31 57.31 0 0 1 153.20 356.33M152.14 356.85L111.89 277.26M153.20 356.33L114.61 275.92M151.20 365.63L147.77 360.22M149.91 358.93A56.54 56.54 0 0 0 145.69 361.60M149.91 358.93L147.32 354.42M146.77 354.74A61.74 61.74 0 0 1 147.88 354.11M146.77 354.74L103.90 281.62M147.88 354.11L106.53 280.12M145.69 361.60L141.07 354.96M143.59 353.29A64.64 64.64 0 0 0 138.63 356.74M143.59 353.29L141.49 349.95M140.89 350.33A68.57 68.57 0 0 1 142.10 349.58M140.89 350.33L98.72 284.80M142.10 349.58L101.29 283.19M138.63 356.74L134.69 351.61M136.78 350.07A71.10 71.10 0 0 0 132.65 353.23M136.78 350.07L133.38 345.29M132.41 345.99A76.97 76.97 0 0 1 134.36 344.60M132.41 345.99L91.22 289.97M134.36 344.60L131.77 340.84M131.08 341.32A81.53 81.53 0 0 1 132.47 340.37M131.08 341.32L93.69 288.19M132.47 340.37L96.19 286.47M132.65 353.23L128.13 347.77M130.39 345.97A78.19 78.19 0 0 0 125.94 349.65M130.39 345.97L88.80 291.79M125.94 349.65L121.58 344.77M123.32 343.25A84.74 84.74 0 0 0 119.88 346.32M123.32 343.25L120.11 339.46M119.06 340.36A89.72 89.72 0 0 1 121.19 338.57M119.06 340.36L81.75 297.56M121.19 338.57L117.24 333.74M116.47 334.37A95.95 95.95 0 0 1 118.01 333.11M116.47 334.37L84.06 295.59M118.01 333.11L86.41 293.66M119.88 346.32L114.44 340.55M115.68 339.41A92.68 92.68 0 0 0 113.23 341.71M115.68 339.41L79.48 299.57M113.23 341.71L103.47 331.73M102.30 332.90A106.64 106.64 0 0 1 104.67 330.58M102.30 332.90L97.40 328.04M96.57 328.88A113.54 113.54 0 0 1 98.23 327.21M96.57 328.88L72.93 305.90M98.23 327.21L75.07 303.75M104.67 330.58L77.25 301.64M133.63 395.87L123.98 393.24M125.36 388.88A56.00 56.00 0 0 0 122.96 397.70M125.36 388.88L109.04 382.95M109.91 380.67A73.37 73.37 0 0 0 108.25 385.26M109.91 380.67L105.70 378.98M106.77 376.44A77.91 77.91 0 0 0 104.72 381.56M106.77 376.44L101.19 373.96M102.22 371.72A84.02 84.02 0 0 0 100.22 376.24M102.22 371.72L98.24 369.81M99.33 367.61A88.44 88.44 0 0 0 97.21 372.04M99.33 367.61L96.25 366.02M97.76 363.20A91.90 91.90 0 0 0 94.83 368.90M97.76 363.20L93.85 361.02M96.25 356.95A96.38 96.38 0 0 0 91.65 365.19M96.25 356.95L91.41 353.94M94.30 349.57A102.08 102.08 0 0 0 88.75 358.45M94.30 349.57L90.20 346.70M93.43 342.32A107.08 107.08 0 0 0 87.20 351.24M93.43 342.32L90.97 340.41M94.08 336.59A110.19 110.19 0 0 0 88.04 344.37M94.08 336.59L89.42 332.63M92.11 329.58A116.30 116.30 0 0 0 86.84 335.78M92.11 329.58L84.22 322.37M85.11 321.40A126.99 126.99 0 0 0 83.33 323.35M85.11 321.40L70.84 308.10M83.33 323.35L68.79 310.35M86.84 335.78L84.17 333.65M85.92 331.49A119.72 119.72 0 0 0 82.46 335.86M85.92 331.49L81.70 327.97M82.95 326.49A125.21 125.21 0 0 0 80.46 329.48M82.95 326.49L66.79 312.63M80.46 329.48L77.17 326.83M78.02 325.79A129.44 129.44 0 0 0 76.33 327.88M78.02 325.79L64.84 314.95M76.33 327.88L62.94 317.32M82.46 335.86L61.08 319.72M88.04 344.37L84.64 341.97M85.33 341.00A114.35 114.35 0 0 0 83.97 342.94M85.33 341.00L59.28 322.16M83.97 342.94L57.53 324.64M87.20 351.24L85.18 349.98M86.09 348.54A109.46 109.46 0 0 0 84.29 351.43M86.09 348.54L84.20 347.32M84.83 346.35A111.72 111.72 0 0 0 83.58 348.30M84.83 346.35L55.83 327.16M83.58 348.30L54.18 329.71M84.29 351.43L52.58 332.29M88.75 358.45L85.22 356.49M86.03 355.05A106.12 106.12 0 0 0 84.43 357.93M86.03 355.05L51.04 334.90M84.43 357.93L78.09 354.54M78.65 353.51A113.31 113.31 0 0 0 77.54 355.58M78.65 353.51L49.55 337.55M77.54 355.58L48.12 340.23M91.65 365.19L46.74 342.93M94.83 368.90L45.42 345.67M97.21 372.04L44.16 348.43M100.22 376.24L96.79 374.84M97.14 374.00A87.72 87.72 0 0 0 96.46 375.68M97.14 374.00L42.95 351.21M96.46 375.68L41.81 354.02M104.72 381.56L99.66 379.74M99.95 378.93A83.28 83.28 0 0 0 99.37 380.55M99.95 378.93L40.72 356.86M99.37 380.55L39.69 359.71M108.25 385.26L38.72 362.59M122.96 397.70L113.13 395.85M114.14 391.32A66.00 66.00 0 0 0 112.43 400.46M114.14 391.32L101.02 387.88M101.51 386.10A79.57 79.57 0 0 0 100.57 389.68M101.51 386.10L96.28 384.60M96.65 383.33A85.01 85.01 0 0 0 95.92 385.87M96.65 383.33L37.80 365.49M95.92 385.87L93.14 385.12M93.38 384.24A87.89 87.89 0 0 0 92.91 386.00M93.38 384.24L36.95 368.40M92.91 386.00L36.16 371.33M100.57 389.68L35.43 374.28M112.43 400.46L111.69 400.37M112.45 395.43A66.75 66.75 0 0 0 111.30 405.36M112.45 395.43L105.37 394.07M105.70 392.47A73.95 73.95 0 0 0 105.08 395.67M105.70 392.47L34.77 377.24M105.08 395.67L102.63 395.26M102.95 393.50A76.44 76.44 0 0 0 102.36 397.02M102.95 393.50L34.16 380.21M102.36 397.02L99.96 396.67M100.14 395.46A78.86 78.86 0 0 0 99.79 397.88M100.14 395.46L94.50 394.55M94.64 393.68A84.58 84.58 0 0 0 94.36 395.41M94.64 393.68L33.61 383.20M94.36 395.41L33.13 386.20M99.79 397.88L32.71 389.21M111.30 405.36L110.55 405.33M110.82 401.43A67.50 67.50 0 0 0 110.51 409.24M110.82 401.43L94.53 399.83M94.62 398.97A83.86 83.86 0 0 0 94.45 400.70M94.62 398.97L32.35 392.22M94.45 400.70L32.06 395.24M110.51 409.24L109.76 409.25M109.79 405.58A68.25 68.25 0 0 0 109.93 412.91M109.79 405.58L97.95 405.17M98.03 403.51A80.10 80.10 0 0 0 97.91 406.83M98.03 403.51L91.13 403.12M91.19 402.22A87.00 87.00 0 0 0 91.09 404.02M91.19 402.22L31.82 398.27M91.09 404.02L31.65 401.30M97.91 406.83L92.54 406.75M92.55 405.86A85.47 85.47 0 0 0 92.53 407.63M92.55 405.86L31.55 404.33M92.53 407.63L31.50 407.37M109.93 412.91L109.18 412.97M109.02 409.85A69.00 69.00 0 0 0 109.47 416.08M109.02 409.85L104.90 409.96M104.88 409.20A73.13 73.13 0 0 0 104.92 410.72M104.88 409.20L31.52 410.40M104.92 410.72L31.60 413.44M109.47 416.08L108.73 416.17M108.41 412.75A69.75 69.75 0 0 0 109.21 419.56M108.41 412.75L91.95 413.88M91.89 412.99A86.25 86.25 0 0 0 92.01 414.77M91.89 412.99L31.75 416.47M92.01 414.77L31.95 419.50M109.21 419.56L108.48 419.69M107.92 415.72A70.50 70.50 0 0 0 109.25 423.62M107.92 415.72L99.70 416.62M99.61 415.81A78.78 78.78 0 0 0 99.79 417.43M99.61 415.81L32.22 422.52M99.79 417.43L32.55 425.54M109.25 423.62L108.52 423.78M107.56 418.73A71.25 71.25 0 0 0 109.84 428.76M107.56 418.73L90.59 421.31M90.46 420.40A88.41 88.41 0 0 0 90.74 422.21M90.46 420.40L32.95 428.55M90.74 422.21L33.41 431.55M109.84 428.76L109.12 428.98M107.65 423.33A72.00 72.00 0 0 0 111.05 434.49M107.65 423.33L96.32 425.80M95.79 423.15A83.59 83.59 0 0 0 96.94 428.43M95.79 423.15L33.92 434.54M96.94 428.43L90.87 429.97M90.49 428.38A89.85 89.85 0 0 0 91.28 431.54M90.49 428.38L87.75 429.02M87.44 427.61A92.66 92.66 0 0 0 88.09 430.42M87.44 427.61L80.50 429.12M80.29 428.11A99.76 99.76 0 0 0 80.72 430.13M80.29 428.11L34.51 437.52M80.72 430.13L35.15 440.49M88.09 430.42L35.85 443.44M91.28 431.54L36.62 446.38M111.05 434.49L110.35 434.76M108.53 429.59A72.75 72.75 0 0 0 112.56 439.78M108.53 429.59L99.35 432.45M98.98 431.22A82.36 82.36 0 0 0 99.74 433.66M98.98 431.22L37.44 449.30M99.74 433.66L95.78 434.96M95.50 434.11A86.53 86.53 0 0 0 96.06 435.81M95.50 434.11L38.33 452.21M96.06 435.81L39.28 455.09M112.56 439.78L111.88 440.11M109.58 434.84A73.50 73.50 0 0 0 114.59 445.18M109.58 434.84L103.57 437.20M103.13 436.04A79.95 79.95 0 0 0 104.03 438.36M103.13 436.04L99.58 437.37M99.28 436.56A83.74 83.74 0 0 0 99.88 438.18M99.28 436.56L40.28 457.96M99.88 438.18L41.35 460.80M104.03 438.36L42.47 463.62M114.59 445.18L113.95 445.55M111.75 441.52A74.25 74.25 0 0 0 116.39 449.44M111.75 441.52L107.15 443.85M105.94 441.35A79.40 79.40 0 0 0 108.45 446.30M105.94 441.35L99.94 444.13M99.12 442.30A86.02 86.02 0 0 0 100.80 445.94M99.12 442.30L43.65 466.42M100.80 445.94L96.95 447.83M96.34 446.57A90.31 90.31 0 0 0 97.58 449.09M96.34 446.57L89.45 449.82M89.02 448.90A97.93 97.93 0 0 0 89.88 450.74M89.02 448.90L44.89 469.19M89.88 450.74L46.19 471.93M97.58 449.09L47.54 474.65M108.45 446.30L104.34 448.57M103.93 447.80A84.09 84.09 0 0 0 104.77 449.33M103.93 447.80L48.95 477.34M104.77 449.33L50.41 480.00M116.39 449.44L115.77 449.86M113.86 446.87A75.00 75.00 0 0 0 117.82 452.76M113.86 446.87L108.25 450.27M107.81 449.55A81.56 81.56 0 0 0 108.69 450.99M107.81 449.55L51.93 482.63M108.69 450.99L53.51 485.22M117.82 452.76L116.68 453.61M114.34 450.28A76.42 76.42 0 0 0 119.19 456.80M114.34 450.28L108.40 454.23M107.93 453.50A83.55 83.55 0 0 0 108.89 454.95M107.93 453.50L55.13 487.79M108.89 454.95L56.81 490.32M119.19 456.80L118.09 457.71M114.99 453.72A77.85 77.85 0 0 0 121.44 461.49M114.99 453.72L113.22 455.01M112.73 454.34A80.04 80.04 0 0 0 113.71 455.68M112.73 454.34L58.54 492.81M113.71 455.68L60.33 495.27M121.44 461.49L120.41 462.47M116.92 458.53A79.27 79.27 0 0 0 124.14 466.16M116.92 458.53L110.47 463.87M108.70 461.65A87.64 87.64 0 0 0 112.32 466.03M108.70 461.65L62.16 497.69M112.32 466.03L107.98 469.85M106.87 468.57A93.42 93.42 0 0 0 109.12 471.11M106.87 468.57L102.23 472.53M101.23 471.35A99.53 99.53 0 0 0 103.24 473.70M101.23 471.35L98.50 473.60M97.83 472.77A103.07 103.07 0 0 0 99.19 474.42M97.83 472.77L64.04 500.07M99.19 474.42L65.98 502.41M103.24 473.70L67.96 504.71M109.12 471.11L69.98 506.97M124.14 466.16L123.18 467.21M121.11 465.23A80.69 80.69 0 0 0 125.31 469.11M121.11 465.23L118.69 467.66M117.77 466.73A84.13 84.13 0 0 0 119.62 468.58M117.77 466.73L114.02 470.39M113.38 469.72A89.36 89.36 0 0 0 114.67 471.05M113.38 469.72L72.06 509.19M114.67 471.05L74.18 511.36M119.62 468.58L76.34 513.49M125.31 469.11L124.38 470.19M122.26 468.30A82.12 82.12 0 0 0 126.57 472.01M122.26 468.30L78.55 515.57M126.57 472.01L125.68 473.12M122.57 470.50A83.54 83.54 0 0 0 128.90 475.59M122.57 470.50L80.80 517.61M128.90 475.59L128.07 476.74M124.65 474.13A84.96 84.96 0 0 0 131.61 479.18M124.65 474.13L121.42 478.13M120.34 477.25A90.11 90.11 0 0 0 122.52 479.00M120.34 477.25L117.48 480.67M116.73 480.04A94.57 94.57 0 0 0 118.24 481.30M116.73 480.04L83.09 519.60M118.24 481.30L85.43 521.54M122.52 479.00L87.80 523.44M131.61 479.18L130.83 480.37M126.95 477.69A86.38 86.38 0 0 0 134.85 482.83M126.95 477.69L123.63 482.23M122.86 481.66A92.01 92.01 0 0 0 124.40 482.79M122.86 481.66L90.21 525.28M124.40 482.79L92.66 527.08M134.85 482.83L134.14 484.07M128.34 480.42A87.81 87.81 0 0 0 140.20 487.26M128.34 480.42L95.14 528.82M140.20 487.26L139.59 488.54M132.40 484.70A89.23 89.23 0 0 0 147.10 491.71M132.40 484.70L129.13 490.20M126.81 488.78A95.63 95.63 0 0 0 131.49 491.56M126.81 488.78L124.25 492.82M122.94 491.97A100.41 100.41 0 0 0 125.57 493.64M122.94 491.97L97.67 530.51M125.57 493.64L123.86 496.44M122.95 495.87A103.69 103.69 0 0 0 124.78 496.99M122.95 495.87L100.22 532.15M124.78 496.99L102.81 533.73M131.49 491.56L128.95 496.12M128.04 495.61A100.85 100.85 0 0 0 129.87 496.63M128.04 495.61L105.43 535.26M129.87 496.63L108.08 536.74M147.10 491.71L146.61 493.04M141.05 490.78A90.65 90.65 0 0 0 152.30 494.93M141.05 490.78L139.10 495.15M136.86 494.12A95.44 95.44 0 0 0 141.37 496.13M136.86 494.12L135.11 497.77M133.26 496.87A99.49 99.49 0 0 0 136.98 498.64M133.26 496.87L131.04 501.27M130.08 500.77A104.42 104.42 0 0 0 132.01 501.75M130.08 500.77L110.77 538.16M132.01 501.75L113.48 539.53M136.98 498.64L135.09 502.81M134.11 502.36A104.07 104.07 0 0 0 136.08 503.25M134.11 502.36L116.22 540.84M136.08 503.25L118.98 542.09M141.37 496.13L121.78 543.28M152.30 494.93L151.90 496.30M146.66 494.58A92.08 92.08 0 0 0 157.22 497.70M146.66 494.58L144.11 501.63M142.66 501.09A99.57 99.57 0 0 0 145.57 502.14M142.66 501.09L139.94 508.26M138.90 507.86A107.24 107.24 0 0 0 140.98 508.65M138.90 507.86L124.59 544.42M140.98 508.65L127.43 545.49M145.57 502.14L130.29 546.51M157.22 497.70L156.90 499.09M150.31 497.31A93.50 93.50 0 0 0 163.61 500.39M150.31 497.31L147.92 505.01M146.92 504.69A101.56 101.56 0 0 0 148.93 505.31M146.92 504.69L133.17 547.47M148.93 505.31L136.07 548.37M163.61 500.39L163.39 501.79M154.38 499.94A94.92 94.92 0 0 0 172.53 502.77M154.38 499.94L152.23 508.32M150.42 507.83A103.57 103.57 0 0 0 154.06 508.77M150.42 507.83L138.99 549.21M154.06 508.77L152.87 513.76M151.23 513.36A108.71 108.71 0 0 0 154.52 514.14M151.23 513.36L141.92 549.99M154.52 514.14L153.21 520.03M152.05 519.76A114.74 114.74 0 0 0 154.38 520.28M152.05 519.76L144.87 550.71M154.38 520.28L147.84 551.36M172.53 502.77L172.44 504.19M163.81 503.30A96.35 96.35 0 0 0 181.12 504.30M163.81 503.30L163.16 507.68M160.84 507.31A100.78 100.78 0 0 0 165.49 508.00M160.84 507.31L159.96 512.38M158.34 512.09A105.93 105.93 0 0 0 161.59 512.65M158.34 512.09L150.81 551.96M161.59 512.65L160.89 517.06M159.77 516.88A110.39 110.39 0 0 0 162.03 517.23M159.77 516.88L153.80 552.49M162.03 517.23L156.80 552.96M165.49 508.00L159.81 553.37M181.12 504.30L181.17 505.72M170.14 505.45A97.77 97.77 0 0 0 192.15 504.74M170.14 505.45L169.59 512.27M167.16 512.05A104.61 104.61 0 0 0 172.03 512.44M167.16 512.05L162.82 553.71M172.03 512.44L171.73 517.53M168.90 517.33A109.71 109.71 0 0 0 174.57 517.65M168.90 517.33L165.85 554.00M174.57 517.65L174.42 522.60M172.05 522.50A114.65 114.65 0 0 0 176.79 522.65M172.05 522.50L171.81 526.98M170.58 526.90A119.14 119.14 0 0 0 173.05 527.03M170.58 526.90L168.88 554.22M173.05 527.03L171.91 554.37M176.79 522.65L176.76 526.12M175.53 526.11A118.13 118.13 0 0 0 177.98 526.13M175.53 526.11L174.94 554.47M177.98 526.13L177.98 554.50M192.15 504.74L192.36 506.15M184.92 506.95A99.19 99.19 0 0 0 199.72 504.79M184.92 506.95L185.30 512.41M182.86 512.55A104.66 104.66 0 0 0 187.73 512.21M182.86 512.55L183.10 517.69M181.40 517.76A109.81 109.81 0 0 0 184.81 517.60M181.40 517.76L181.57 523.46M180.38 523.49A115.52 115.52 0 0 0 182.77 523.42M180.38 523.49L181.01 554.47M182.77 523.42L184.05 554.38M184.81 517.60L187.08 554.22M187.73 512.21L187.94 514.41M186.83 514.51A106.88 106.88 0 0 0 189.04 514.30M186.83 514.51L190.11 554.00M189.04 514.30L193.13 553.72M199.72 504.79L200.03 506.17M193.04 507.48A100.62 100.62 0 0 0 206.91 504.37M193.04 507.48L194.17 514.90M192.50 515.13A108.11 108.11 0 0 0 195.82 514.63M192.50 515.13L192.97 518.57M191.82 518.72A111.58 111.58 0 0 0 194.11 518.41M191.82 518.72L196.15 553.37M194.11 518.41L199.15 552.96M195.82 514.63L202.15 552.50M206.91 504.37L207.32 505.74M201.82 507.22A102.04 102.04 0 0 0 212.73 503.95M201.82 507.22L203.65 514.85M201.15 515.42A109.89 109.89 0 0 0 206.13 514.22M201.15 515.42L202.48 521.58M200.71 521.95A116.19 116.19 0 0 0 204.24 521.19M200.71 521.95L201.54 526.12M200.32 526.36A120.45 120.45 0 0 0 202.76 525.87M200.32 526.36L205.14 551.96M202.76 525.87L208.12 551.37M204.24 521.19L211.08 550.72M206.13 514.22L207.47 519.28M206.31 519.58A115.11 115.11 0 0 0 208.62 518.97M206.31 519.58L214.03 550.00M208.62 518.97L216.97 549.22M212.73 503.95L213.21 505.29M210.14 506.34A103.46 103.46 0 0 0 216.25 504.13M210.14 506.34L212.08 512.27M210.45 512.79A109.70 109.70 0 0 0 213.69 511.73M210.45 512.79L211.46 516.03M210.34 516.37A113.09 113.09 0 0 0 212.57 515.68M210.34 516.37L219.89 548.38M212.57 515.68L222.79 547.49M213.69 511.73L225.67 546.53M216.25 504.13L216.78 505.45M214.18 506.45A104.88 104.88 0 0 0 219.35 504.39M214.18 506.45L228.53 545.51M219.35 504.39L219.91 505.70M216.73 507.00A106.31 106.31 0 0 0 223.05 504.29M216.73 507.00L231.37 544.43M223.05 504.29L223.65 505.58M220.86 506.84A107.73 107.73 0 0 0 226.42 504.24M220.86 506.84L222.66 510.99M221.05 511.67A112.26 112.26 0 0 0 224.25 510.29M221.05 511.67L234.18 543.30M224.25 510.29L225.62 513.30M224.52 513.79A115.57 115.57 0 0 0 226.70 512.80M224.52 513.79L236.97 542.11M226.70 512.80L239.74 540.85M226.42 504.24L227.06 505.51M226.04 506.01A109.15 109.15 0 0 0 228.06 505.00M226.04 506.01L242.48 539.55M228.06 505.00L245.19 538.18" fill="none" stroke="#ff0000" stroke-width="0.85"/>
<path d="M205.58 422.15L208.25 423.52M195.62 437.08A34.00 34.00 0 0 0 211.90 405.35M195.62 437.08L197.69 440.50M196.30 441.30A38.00 38.00 0 0 0 199.05 439.64M196.30 441.30L198.85 445.95M199.45 445.62A43.30 43.30 0 0 1 198.26 446.27M199.45 445.62L250.55 535.27M198.26 446.27L199.81 449.20M200.24 448.97A46.61 46.61 0 0 1 199.38 449.42M200.24 448.97L247.89 536.76M199.38 449.42L245.19 538.18M199.05 439.64L201.15 442.80M199.83 443.65A41.80 41.80 0 0 0 202.45 441.91M199.83 443.65L201.41 446.24M201.81 445.99A44.84 44.84 0 0 1 201.01 446.48M201.81 445.99L255.79 532.14M201.01 446.48L253.19 533.73M202.45 441.91L204.67 444.99M203.41 445.87A45.60 45.60 0 0 0 205.90 444.07M203.41 445.87L206.10 449.87M206.53 449.58A50.42 50.42 0 0 1 205.66 450.16M206.53 449.58L260.89 528.80M205.66 450.16L258.36 530.50M205.90 444.07L208.22 447.08M206.79 448.14A49.40 49.40 0 0 0 209.61 445.96M206.79 448.14L263.39 527.04M209.61 445.96L212.05 448.88M210.34 450.24A53.20 53.20 0 0 0 213.69 447.45M210.34 450.24L215.01 456.33M215.51 455.95A60.87 60.87 0 0 1 214.50 456.72M215.51 455.95L268.27 523.39M214.50 456.72L265.85 525.24M213.69 447.45L216.24 450.27M214.73 451.58A57.00 57.00 0 0 0 217.70 448.90M214.73 451.58L218.95 456.59M219.71 455.95A63.55 63.55 0 0 1 218.19 457.22M219.71 455.95L224.29 461.22M224.84 460.73A70.53 70.53 0 0 1 223.74 461.70M224.84 460.73L275.30 517.53M223.74 461.70L272.99 519.53M218.19 457.22L270.65 521.48M217.70 448.90L220.35 451.62M219.32 452.60A60.80 60.80 0 0 0 221.36 450.62M219.32 452.60L277.55 515.48M221.36 450.62L224.07 453.28M222.88 454.47A64.60 64.60 0 0 0 225.23 452.07M222.88 454.47L279.77 513.38M225.23 452.07L228.01 454.66M227.03 455.69A68.40 68.40 0 0 0 228.97 453.61M227.03 455.69L230.71 459.28M231.24 458.72A73.54 73.54 0 0 1 230.17 459.82M231.24 458.72L284.07 509.05M230.17 459.82L281.94 511.24M228.97 453.61L236.30 460.16M236.84 459.56A78.23 78.23 0 0 1 235.75 460.77M236.84 459.56L288.18 504.55M235.75 460.77L286.15 506.82M211.90 405.35L222.86 404.49M219.56 425.26A45.00 45.00 0 0 0 216.37 384.49M219.56 425.26L241.73 434.46M246.55 415.88A69.00 69.00 0 0 1 231.97 450.99M246.55 415.88L252.32 416.54M252.47 415.09A74.81 74.81 0 0 1 252.14 417.99M252.47 415.09L323.84 421.88M252.14 417.99L260.71 419.14M260.90 417.64A83.46 83.46 0 0 1 260.49 420.65M260.90 417.64L323.52 424.92M260.49 420.65L263.25 421.07M263.44 419.74A86.25 86.25 0 0 1 263.03 422.40M263.44 419.74L323.14 427.94M263.03 422.40L270.74 423.71M270.90 422.74A94.06 94.06 0 0 1 270.57 424.67M270.90 422.74L322.69 430.96M270.57 424.67L322.18 433.97M245.42 422.70L253.60 424.48M253.85 423.30A77.38 77.38 0 0 1 253.34 425.66M253.85 423.30L321.61 436.96M253.34 425.66L257.47 426.63M257.66 425.80A81.62 81.62 0 0 1 257.27 427.45M257.66 425.80L320.97 439.95M257.27 427.45L320.28 442.92M243.75 428.94L251.77 431.50M252.47 429.18A77.43 77.43 0 0 1 251.01 433.79M252.47 429.18L256.48 430.32M256.82 429.09A81.59 81.59 0 0 1 256.12 431.54M256.82 429.09L319.52 445.87M256.12 431.54L260.75 432.94M261.00 432.07A86.43 86.43 0 0 1 260.49 433.80M261.00 432.07L318.70 448.81M260.49 433.80L317.82 451.73M251.01 433.79L254.46 435.01M254.87 433.81A81.09 81.09 0 0 1 254.03 436.20M254.87 433.81L316.88 454.63M254.03 436.20L262.36 439.29M262.68 438.41A89.98 89.98 0 0 1 262.03 440.17M262.68 438.41L315.88 457.51M262.03 440.17L314.82 460.37M240.70 436.80L248.01 440.16M248.58 438.88A77.04 77.04 0 0 1 247.41 441.43M248.58 438.88L254.80 441.60M255.32 440.40A83.83 83.83 0 0 1 254.27 442.80M255.32 440.40L258.81 441.86M259.16 441.02A87.62 87.62 0 0 1 258.46 442.70M259.16 441.02L313.70 463.21M258.46 442.70L312.52 466.02M254.27 442.80L311.28 468.81M247.41 441.43L309.99 471.57M238.69 440.82L242.59 442.93M243.13 441.92A73.43 73.43 0 0 1 242.04 443.93M243.13 441.92L248.26 444.58M248.63 443.85A79.21 79.21 0 0 1 247.87 445.31M248.63 443.85L308.64 474.31M247.87 445.31L307.23 477.01M242.04 443.93L305.76 479.69M236.53 444.55L241.74 447.80M242.36 446.80A75.15 75.15 0 0 1 241.11 448.79M242.36 446.80L246.53 449.32M246.96 448.60A80.02 80.02 0 0 1 246.10 450.03M246.96 448.60L304.24 482.33M246.10 450.03L302.67 484.94M241.11 448.79L301.04 487.52M234.55 447.54L239.98 451.34M240.65 450.37A75.63 75.63 0 0 1 239.29 452.30M240.65 450.37L299.36 490.07M239.29 452.30L244.04 455.73M244.53 455.04A81.48 81.48 0 0 1 243.54 456.41M244.53 455.04L297.62 492.58M243.54 456.41L295.83 495.05M231.97 450.99L237.22 455.17M237.95 454.24A75.71 75.71 0 0 1 236.47 456.09M237.95 454.24L294.00 497.48M236.47 456.09L239.17 458.31M239.69 457.67A79.20 79.20 0 0 1 238.64 458.95M239.69 457.67L292.11 499.88M238.64 458.95L290.17 502.23M216.37 384.49L218.93 382.92M225.12 398.84A48.00 48.00 0 0 0 207.55 370.17M225.12 398.84L243.77 395.21M240.19 383.06A67.00 67.00 0 0 1 245.00 407.82M240.19 383.06L254.31 377.40M253.74 376.01A82.22 82.22 0 0 1 254.86 378.79M253.74 376.01L258.65 373.94M258.10 372.69A87.54 87.54 0 0 1 259.17 375.20M258.10 372.69L266.10 369.16M265.69 368.25A96.28 96.28 0 0 1 266.50 370.08M265.69 368.25L311.43 347.51M266.50 370.08L312.66 350.30M259.17 375.20L313.83 353.12M254.86 378.79L314.94 355.96M241.69 387.20L254.35 383.06M253.66 381.04A80.32 80.32 0 0 1 254.99 385.11M253.66 381.04L316.00 358.82M254.99 385.11L257.41 384.39M256.60 381.82A82.85 82.85 0 0 1 258.14 386.98M256.60 381.82L316.99 361.70M258.14 386.98L266.17 384.88M265.47 382.36A91.15 91.15 0 0 1 266.80 387.41M265.47 382.36L269.75 381.11M269.32 379.68A95.61 95.61 0 0 1 270.16 382.55M269.32 379.68L317.93 364.61M270.16 382.55L278.46 380.25M278.17 379.21A104.22 104.22 0 0 1 278.75 381.30M278.17 379.21L318.80 367.53M278.75 381.30L319.61 370.47M266.80 387.41L272.65 386.06M272.42 385.07A97.16 97.16 0 0 1 272.87 387.04M272.42 385.07L320.36 373.43M272.87 387.04L321.05 376.40M244.67 401.33L257.69 400.03M257.44 397.81A80.09 80.09 0 0 1 257.88 402.27M257.44 397.81L260.22 397.45M259.94 395.42A82.90 82.90 0 0 1 260.46 399.48M259.94 395.42L266.95 394.34M266.69 392.72A90.00 90.00 0 0 1 267.19 395.96M266.69 392.72L273.45 391.56M273.18 390.07A96.85 96.85 0 0 1 273.69 393.05M273.18 390.07L280.91 388.61M280.71 387.54A104.72 104.72 0 0 1 281.11 389.69M280.71 387.54L321.68 379.38M281.11 389.69L322.24 382.38M273.69 393.05L322.74 385.39M267.19 395.96L323.18 388.41M260.46 399.48L264.61 399.06M264.51 398.16A87.07 87.07 0 0 1 264.70 399.96M264.51 398.16L323.56 391.44M264.70 399.96L323.87 394.47M257.88 402.27L324.12 397.51M245.00 407.82L252.80 407.80M252.74 404.98A74.80 74.80 0 0 1 252.76 410.62M252.74 404.98L256.53 404.82M256.49 404.01A78.59 78.59 0 0 1 256.56 405.64M256.49 404.01L324.31 400.55M256.56 405.64L324.43 403.60M252.76 410.62L255.76 410.73M255.80 408.50A77.80 77.80 0 0 1 255.65 412.95M255.80 408.50L262.42 408.54M262.42 407.22A84.42 84.42 0 0 1 262.40 409.86M262.42 407.22L324.49 406.65M262.40 409.86L266.69 409.95M266.71 409.03A88.71 88.71 0 0 1 266.67 410.88M266.71 409.03L324.49 409.70M266.67 410.88L324.42 412.75M255.65 412.95L263.26 413.44M263.31 412.55A85.43 85.43 0 0 1 263.20 414.32M263.31 412.55L324.29 415.80M263.20 414.32L324.10 418.84M207.55 370.17L208.78 368.60M220.34 381.41A50.00 50.00 0 0 0 193.55 360.48M220.34 381.41L231.43 374.44M228.95 370.78A63.09 63.09 0 0 1 233.65 378.27M228.95 370.78L233.02 367.81M230.87 365.02A68.14 68.14 0 0 1 235.02 370.71M230.87 365.02L234.80 361.82M232.99 359.67A73.20 73.20 0 0 1 236.53 364.03M232.99 359.67L237.08 356.07M234.66 353.44A78.66 78.66 0 0 1 239.39 358.82M234.66 353.44L236.68 351.49M233.66 348.51A81.47 81.47 0 0 1 239.54 354.62M233.66 348.51L236.85 345.10M235.02 343.45A86.13 86.13 0 0 1 238.62 346.81M235.02 343.45L238.46 339.55M237.39 338.62A91.33 91.33 0 0 1 239.53 340.50M237.39 338.62L273.26 296.70M239.53 340.50L242.21 337.56M242.94 338.23A95.31 95.31 0 0 0 241.47 336.90M242.94 338.23L277.81 300.76M241.47 336.90L275.56 298.71M238.62 346.81L241.59 343.82M242.25 344.49A90.34 90.34 0 0 0 240.92 343.17M242.25 344.49L282.19 305.01M240.92 343.17L280.02 302.87M239.54 354.62L243.22 351.43M244.24 352.62A86.34 86.34 0 0 0 242.18 350.25M244.24 352.62L290.40 314.04M242.18 350.25L248.75 344.33M249.74 345.45A95.18 95.18 0 0 0 247.75 343.24M249.74 345.45L288.42 311.72M247.75 343.24L252.08 339.21M252.80 339.99A101.10 101.10 0 0 0 251.36 338.44M252.80 339.99L286.39 309.44M251.36 338.44L284.31 307.20M239.39 358.82L292.33 316.40M236.53 364.03L239.41 361.87M239.89 362.51A76.81 76.81 0 0 0 238.93 361.23M239.89 362.51L296.04 321.24M238.93 361.23L294.21 318.80M235.02 370.71L241.31 366.59M242.26 368.09A75.65 75.65 0 0 0 240.32 365.12M242.26 368.09L247.55 364.80M248.22 365.90A81.87 81.87 0 0 0 246.87 363.72M248.22 365.90L250.59 364.47M251.04 365.23A84.64 84.64 0 0 0 250.13 363.72M251.04 365.23L304.42 333.97M250.13 363.72L302.85 331.36M246.87 363.72L301.23 328.77M240.32 365.12L245.93 361.26M246.42 361.97A82.46 82.46 0 0 0 245.44 360.56M246.42 361.97L299.55 326.23M245.44 360.56L297.82 323.71M233.65 378.27L239.01 375.40M239.59 376.52A69.17 69.17 0 0 0 238.41 374.30M239.59 376.52L246.78 372.85M247.32 373.93A77.24 77.24 0 0 0 246.22 371.78M247.32 373.93L251.06 372.09M251.43 372.85A81.41 81.41 0 0 0 250.69 371.33M251.43 372.85L310.14 344.75M250.69 371.33L308.80 342.01M246.22 371.78L307.39 339.30M238.41 374.30L305.93 336.62M193.55 360.48L194.18 358.58M204.84 363.46A52.00 52.00 0 0 0 182.70 356.21M204.84 363.46L214.91 346.74M211.11 344.61A71.52 71.52 0 0 1 218.57 349.10M211.11 344.61L214.21 338.67M210.36 336.79A78.21 78.21 0 0 1 217.95 340.76M210.36 336.79L212.33 332.44M207.52 330.44A82.99 82.99 0 0 1 217.01 334.75M207.52 330.44L209.52 325.20M202.91 322.98A88.59 88.59 0 0 1 215.93 327.94M202.91 322.98L204.38 317.97M197.87 316.31A93.81 93.81 0 0 1 210.75 320.09M197.87 316.31L199.08 310.74M195.52 310.04A99.51 99.51 0 0 1 202.61 311.58M195.52 310.04L197.07 301.40M198.17 301.60A108.29 108.29 0 0 0 195.96 301.20M198.17 301.60L205.29 264.06M195.96 301.20L202.29 263.53M202.61 311.58L204.08 305.81M207.26 306.67A105.47 105.47 0 0 0 200.87 305.05M207.26 306.67L208.63 301.92M210.83 302.58A110.41 110.41 0 0 0 206.41 301.31M210.83 302.58L211.86 299.27M212.99 299.62A113.89 113.89 0 0 0 210.73 298.92M212.99 299.62L223.01 268.59M210.73 298.92L220.10 267.68M206.41 301.31L208.48 293.53M209.67 293.85A118.46 118.46 0 0 0 207.29 293.22M209.67 293.85L217.17 266.83M207.29 293.22L214.22 266.05M200.87 305.05L201.94 300.23M203.06 300.48A110.40 110.40 0 0 0 200.82 299.98M203.06 300.48L211.26 265.33M200.82 299.98L208.28 264.66M210.75 320.09L214.10 311.09M216.36 311.96A103.42 103.42 0 0 0 211.82 310.27M216.36 311.96L218.94 305.51M220.53 306.16A110.36 110.36 0 0 0 217.33 304.88M220.53 306.16L234.46 272.82M217.33 304.88L220.03 297.80M221.18 298.24A117.94 117.94 0 0 0 218.88 297.37M221.18 298.24L231.63 271.67M218.88 297.37L228.78 270.58M211.82 310.27L225.91 269.55M215.93 327.94L218.66 322.18M219.99 322.83A94.96 94.96 0 0 0 217.31 321.56M219.99 322.83L242.78 276.60M217.31 321.56L219.12 317.59M220.06 318.02A99.32 99.32 0 0 0 218.18 317.17M220.06 318.02L240.03 275.28M218.18 317.17L237.26 274.02M217.01 334.75L221.33 326.62M222.18 327.08A92.20 92.20 0 0 0 220.48 326.18M222.18 327.08L248.20 279.41M220.48 326.18L245.51 277.98M217.95 340.76L221.73 334.41M222.87 335.10A85.60 85.60 0 0 0 220.57 333.74M222.87 335.10L227.32 327.88M228.15 328.39A94.09 94.09 0 0 0 226.48 327.37M228.15 328.39L256.09 284.05M226.48 327.37L253.49 282.45M220.57 333.74L250.86 280.90M218.57 349.10L222.04 344.07M223.32 344.97A77.63 77.63 0 0 0 220.74 343.19M223.32 344.97L226.35 340.74M227.66 341.70A82.84 82.84 0 0 0 225.03 339.81M227.66 341.70L231.83 336.13M233.13 337.13A89.79 89.79 0 0 0 230.51 335.16M233.13 337.13L236.56 332.71M237.73 333.64A95.38 95.38 0 0 0 235.38 331.81M237.73 333.64L240.74 329.89M241.55 330.55A100.18 100.18 0 0 0 239.92 329.24M241.55 330.55L270.92 294.74M239.92 329.24L268.55 292.83M235.38 331.81L266.13 290.97M230.51 335.16L263.67 289.16M225.03 339.81L261.18 287.40M220.74 343.19L258.65 285.70M182.70 356.21L182.88 354.22M180.46 354.06A54.00 54.00 0 0 1 185.29 354.49M180.46 354.06L180.57 351.70M178.59 351.65A56.36 56.36 0 0 1 182.54 351.83M178.59 351.65L178.62 348.76M178.00 348.75A59.25 59.25 0 0 1 179.23 348.77M178.00 348.75L178.00 261.50M179.23 348.77L181.05 261.53M182.54 351.83L182.66 350.41M181.31 350.31A57.78 57.78 0 0 1 184.00 350.53M181.31 350.31L181.47 347.53M180.52 347.49A60.57 60.57 0 0 1 182.41 347.59M180.52 347.49L184.10 261.63M182.41 347.59L182.62 344.73M181.96 344.69A63.44 63.44 0 0 1 183.28 344.78M181.96 344.69L187.14 261.79M183.28 344.78L190.19 262.01M184.00 350.53L193.22 262.29M185.29 354.49L185.50 352.94M184.92 352.86A55.57 55.57 0 0 1 186.07 353.02M184.92 352.86L196.25 262.64M186.07 353.02L199.28 263.05" fill="none" stroke="#0000ff" stroke-width="0.85"/>
<path d="M205.58 422.15A31 31 0 0 1 152.30 425.33" fill="none" stroke="#0000ff" stroke-width="0.85"/>
<path d="M152.30 425.33A31 31 0 0 1 159.18 383.36" fill="none" stroke="#ff0000" stroke-width="0.85"/>
<line x1="152.3" y1="425.3" x2="161.4" y2="419.2" stroke="#555" stroke-width="0.9"/>
<circle cx="123.3" cy="268.5" r="2" fill="#ff0000"/>
<circle cx="30.5" cy="378.3" r="2" fill="#ff0000"/>
<circle cx="30.5" cy="381.2" r="2" fill="#ff0000"/>
<circle cx="70.9" cy="513.9" r="2" fill="#ff0000"/>
<circle cx="75.1" cy="517.9" r="2" fill="#ff0000"/>
<circle cx="174.8" cy="558.4" r="2" fill="#ff0000"/>
<path transform="translate(269.4,289.6) rotate(38)" d="M0 -1.7l1.8 2.9h-3.6z" fill="#0000ff"/>
<path transform="translate(326.4,384.2) rotate(81)" d="M0 -1.7l1.8 2.9h-3.6z" fill="#0000ff"/>
<path transform="translate(326.4,387.0) rotate(82)" d="M0 -1.7l1.8 2.9h-3.6z" fill="#0000ff"/>
<path transform="translate(327.8,396.1) rotate(85)" d="M0 -1.7l1.8 2.9h-3.6z" fill="#0000ff"/>
<path transform="translate(327.8,398.7) rotate(86)" d="M0 -1.7l1.8 2.9h-3.6z" fill="#0000ff"/>
<path transform="translate(327.8,401.4) rotate(87)" d="M0 -1.7l1.8 2.9h-3.6z" fill="#0000ff"/>
<path transform="translate(327.8,408.3) rotate(90)" d="M0 -1.7l1.8 2.9h-3.6z" fill="#0000ff"/>
<path transform="translate(327.8,410.9) rotate(91)" d="M0 -1.7l1.8 2.9h-3.6z" fill="#0000ff"/>
<path transform="translate(271.0,525.7) rotate(142)" d="M0 -1.7l1.8 2.9h-3.6z" fill="#0000ff"/>
<path d="M171 262H173.5V282.8H171" fill="none" stroke="#222" stroke-width="0.9"/>
<text x="166" y="274.6" font-size="5.6" fill="#111" stroke="#111" stroke-width="0.2" text-anchor="middle">0.05</text>
<text transform="translate(301.4,330.3) scale(0.92,1)" font-size="25" fill="#000">G2</text>
<text transform="translate(15.6,494) scale(0.92,1)" font-size="25" fill="#000">G1</text>
<line x1="410.3" y1="462.2" x2="612.1" y2="462.2" stroke="#c4c4c4" stroke-width="0.9"/>
<line x1="425.7" y1="474.4" x2="627.5" y2="474.4" stroke="#c4c4c4" stroke-width="0.9"/>
<line x1="441.0" y1="486.6" x2="642.8" y2="486.6" stroke="#c4c4c4" stroke-width="0.9"/>
<line x1="456.3" y1="498.8" x2="658.1" y2="498.8" stroke="#c4c4c4" stroke-width="0.9"/>
<line x1="471.7" y1="511.0" x2="673.5" y2="511.0" stroke="#c4c4c4" stroke-width="0.9"/>
<line x1="423.8" y1="450" x2="515.8" y2="523.2" stroke="#c4c4c4" stroke-width="0.9"/>
<line x1="452.7" y1="450" x2="544.7" y2="523.2" stroke="#c4c4c4" stroke-width="0.9"/>
<line x1="481.5" y1="450" x2="573.5" y2="523.2" stroke="#c4c4c4" stroke-width="0.9"/>
<line x1="510.3" y1="450" x2="602.3" y2="523.2" stroke="#c4c4c4" stroke-width="0.9"/>
<line x1="539.1" y1="450" x2="631.1" y2="523.2" stroke="#c4c4c4" stroke-width="0.9"/>
<line x1="568.0" y1="450" x2="660.0" y2="523.2" stroke="#c4c4c4" stroke-width="0.9"/>
<path d="M395 318.3H596.8V450H395Z" fill="none" stroke="#707070" stroke-width="1.1"/>
<path d="M487 392H689V523.2H487Z" fill="none" stroke="#707070" stroke-width="1.1"/>
<line x1="395" y1="318.3" x2="487" y2="392.0" stroke="#303030" stroke-width="1.1"/>
<line x1="596.8" y1="318.3" x2="688.8" y2="392.0" stroke="#303030" stroke-width="1.1"/>
<line x1="395" y1="450" x2="487" y2="523.7" stroke="#303030" stroke-width="1.1"/>
<line x1="596.8" y1="450" x2="688.8" y2="523.7" stroke="#303030" stroke-width="1.1"/>
<line x1="487.0" y1="523.2" x2="487.0" y2="525.7" stroke="#303030" stroke-width="1"/>
<text x="489.0" y="537.3" font-size="9.5" fill="#333" text-anchor="middle">-15</text>
<line x1="515.9" y1="523.2" x2="515.9" y2="525.7" stroke="#303030" stroke-width="1"/>
<text x="517.9" y="537.3" font-size="9.5" fill="#333" text-anchor="middle">-10</text>
<line x1="544.7" y1="523.2" x2="544.7" y2="525.7" stroke="#303030" stroke-width="1"/>
<text x="546.7" y="537.3" font-size="9.5" fill="#333" text-anchor="middle">-5</text>
<line x1="573.6" y1="523.2" x2="573.6" y2="525.7" stroke="#303030" stroke-width="1"/>
<text x="575.6" y="537.3" font-size="9.5" fill="#333" text-anchor="middle">0</text>
<line x1="602.4" y1="523.2" x2="602.4" y2="525.7" stroke="#303030" stroke-width="1"/>
<text x="604.4" y="537.3" font-size="9.5" fill="#333" text-anchor="middle">5</text>
<line x1="631.3" y1="523.2" x2="631.3" y2="525.7" stroke="#303030" stroke-width="1"/>
<text x="633.3" y="537.3" font-size="9.5" fill="#333" text-anchor="middle">10</text>
<line x1="660.1" y1="523.2" x2="660.1" y2="525.7" stroke="#303030" stroke-width="1"/>
<text x="662.1" y="537.3" font-size="9.5" fill="#333" text-anchor="middle">15</text>
<line x1="689.0" y1="523.2" x2="689.0" y2="525.7" stroke="#303030" stroke-width="1"/>
<text x="691.0" y="537.3" font-size="9.5" fill="#333" text-anchor="middle">20</text>
<line x1="689" y1="392.0" x2="691.5" y2="392.0" stroke="#303030" stroke-width="1"/>
<text transform="translate(706.5,391.0) rotate(-90)" font-size="9.5" fill="#333" text-anchor="middle">15</text>
<line x1="689" y1="418.2" x2="691.5" y2="418.2" stroke="#303030" stroke-width="1"/>
<text transform="translate(706.5,417.2) rotate(-90)" font-size="9.5" fill="#333" text-anchor="middle">10</text>
<line x1="689" y1="444.5" x2="691.5" y2="444.5" stroke="#303030" stroke-width="1"/>
<text transform="translate(706.5,443.5) rotate(-90)" font-size="9.5" fill="#333" text-anchor="middle">5</text>
<line x1="689" y1="470.7" x2="691.5" y2="470.7" stroke="#303030" stroke-width="1"/>
<text transform="translate(706.5,469.7) rotate(-90)" font-size="9.5" fill="#333" text-anchor="middle">0</text>
<line x1="689" y1="497.0" x2="691.5" y2="497.0" stroke="#303030" stroke-width="1"/>
<text transform="translate(706.5,496.0) rotate(-90)" font-size="9.5" fill="#333" text-anchor="middle">-5</text>
<line x1="689" y1="523.2" x2="691.5" y2="523.2" stroke="#303030" stroke-width="1"/>
<text transform="translate(706.5,522.2) rotate(-90)" font-size="9.5" fill="#333" text-anchor="middle">-10</text>
<line x1="395.0" y1="450.0" x2="392.5" y2="450.0" stroke="#303030" stroke-width="1"/>
<text x="386.5" y="454.4" font-size="9.5" fill="#333" text-anchor="middle">15</text>
<line x1="410.3" y1="462.2" x2="407.8" y2="462.2" stroke="#303030" stroke-width="1"/>
<text x="401.8" y="466.4" font-size="9.5" fill="#333" text-anchor="middle">10</text>
<line x1="425.7" y1="474.4" x2="423.2" y2="474.4" stroke="#303030" stroke-width="1"/>
<text x="415.7" y="479.4" font-size="9.5" fill="#333" text-anchor="middle">5</text>
<line x1="441.0" y1="486.6" x2="438.5" y2="486.6" stroke="#303030" stroke-width="1"/>
<text x="431.5" y="491.4" font-size="9.5" fill="#333" text-anchor="middle">0</text>
<line x1="456.3" y1="498.8" x2="453.8" y2="498.8" stroke="#303030" stroke-width="1"/>
<text x="448.8" y="503.7" font-size="9.5" fill="#333" text-anchor="middle">-5</text>
<line x1="471.7" y1="511.0" x2="469.2" y2="511.0" stroke="#303030" stroke-width="1"/>
<text x="465.3" y="516.2" font-size="9.5" fill="#333" text-anchor="middle">-10</text>
<line x1="487.0" y1="523.2" x2="484.5" y2="523.2" stroke="#303030" stroke-width="1"/>
<text x="479.8" y="528.4" font-size="9.5" fill="#333" text-anchor="middle">-15</text>
<text transform="translate(448.8,477) rotate(38.4)" font-size="14.5" font-weight="bold" fill="#111" text-anchor="middle" dy="5">PC2</text>
<text x="580" y="516.8" font-size="14" font-weight="bold" fill="#111" text-anchor="middle">PC1</text>
<text transform="translate(677,458.8) rotate(90)" font-size="14" font-weight="bold" fill="#111" text-anchor="middle" dy="5">PC3</text>
<circle cx="467.7" cy="386.4" r="1.6" fill="#ff0000"/>
<circle cx="453.2" cy="390.2" r="1.6" fill="#ff0000"/>
<circle cx="505.6" cy="389.9" r="1.6" fill="#ff0000"/>
<circle cx="455.3" cy="394.2" r="1.6" fill="#ff0000"/>
<circle cx="459.2" cy="398.2" r="1.6" fill="#ff0000"/>
<circle cx="465.6" cy="398.5" r="1.6" fill="#ff0000"/>
<circle cx="462.7" cy="402.7" r="1.6" fill="#ff0000"/>
<circle cx="466.3" cy="402.4" r="1.6" fill="#ff0000"/>
<circle cx="470.5" cy="402.7" r="1.6" fill="#ff0000"/>
<circle cx="467.7" cy="404.4" r="1.6" fill="#ff0000"/>
<circle cx="459.9" cy="406.0" r="1.6" fill="#ff0000"/>
<circle cx="464.4" cy="406.7" r="1.6" fill="#ff0000"/>
<circle cx="525.5" cy="402.4" r="1.6" fill="#ff0000"/>
<circle cx="484.0" cy="408.1" r="1.6" fill="#ff0000"/>
<circle cx="484.3" cy="412.1" r="1.6" fill="#ff0000"/>
<circle cx="477.6" cy="412.1" r="1.6" fill="#ff0000"/>
<circle cx="524.9" cy="411.8" r="1.6" fill="#ff0000"/>
<circle cx="494.7" cy="413.0" r="1.6" fill="#ff0000"/>
<circle cx="462.7" cy="413.4" r="1.6" fill="#ff0000"/>
<circle cx="459.9" cy="415.2" r="1.6" fill="#ff0000"/>
<circle cx="468.8" cy="413.7" r="1.6" fill="#ff0000"/>
<circle cx="472.4" cy="414.8" r="1.6" fill="#ff0000"/>
<circle cx="463.4" cy="417.6" r="1.6" fill="#ff0000"/>
<circle cx="469.8" cy="417.6" r="1.6" fill="#ff0000"/>
<circle cx="461.0" cy="419.8" r="1.6" fill="#ff0000"/>
<circle cx="468.4" cy="419.5" r="1.6" fill="#ff0000"/>
<circle cx="485.2" cy="419.3" r="1.6" fill="#ff0000"/>
<circle cx="496.2" cy="418.4" r="1.6" fill="#ff0000"/>
<circle cx="516.0" cy="420.1" r="1.6" fill="#ff0000"/>
<circle cx="508.9" cy="421.2" r="1.6" fill="#ff0000"/>
<circle cx="501.4" cy="422.3" r="1.6" fill="#ff0000"/>
<circle cx="465.9" cy="422.6" r="1.6" fill="#ff0000"/>
<circle cx="470.5" cy="422.6" r="1.6" fill="#ff0000"/>
<circle cx="482.3" cy="422.3" r="1.6" fill="#ff0000"/>
<circle cx="465.6" cy="425.2" r="1.6" fill="#ff0000"/>
<circle cx="474.8" cy="424.7" r="1.6" fill="#ff0000"/>
<circle cx="479.8" cy="425.2" r="1.6" fill="#ff0000"/>
<circle cx="499.7" cy="426.9" r="1.6" fill="#ff0000"/>
<circle cx="463.9" cy="428.3" r="1.6" fill="#ff0000"/>
<circle cx="468.4" cy="429.0" r="1.6" fill="#ff0000"/>
<circle cx="473.4" cy="429.0" r="1.6" fill="#ff0000"/>
<circle cx="476.2" cy="428.3" r="1.6" fill="#ff0000"/>
<circle cx="482.6" cy="428.3" r="1.6" fill="#ff0000"/>
<circle cx="466.0" cy="432.6" r="1.6" fill="#ff0000"/>
<circle cx="470.1" cy="432.6" r="1.6" fill="#ff0000"/>
<circle cx="483.3" cy="430.9" r="1.6" fill="#ff0000"/>
<circle cx="489.0" cy="431.8" r="1.6" fill="#ff0000"/>
<circle cx="491.1" cy="433.7" r="1.6" fill="#ff0000"/>
<circle cx="499.7" cy="432.6" r="1.6" fill="#ff0000"/>
<circle cx="506.8" cy="433.7" r="1.6" fill="#ff0000"/>
<circle cx="513.9" cy="432.8" r="1.6" fill="#ff0000"/>
<circle cx="479.1" cy="433.7" r="1.6" fill="#ff0000"/>
<circle cx="481.2" cy="435.4" r="1.6" fill="#ff0000"/>
<circle cx="485.5" cy="435.7" r="1.6" fill="#ff0000"/>
<circle cx="512.4" cy="435.4" r="1.6" fill="#ff0000"/>
<circle cx="506.8" cy="437.1" r="1.6" fill="#ff0000"/>
<circle cx="476.2" cy="437.1" r="1.6" fill="#ff0000"/>
<circle cx="477.6" cy="438.5" r="1.6" fill="#ff0000"/>
<circle cx="484.0" cy="438.9" r="1.6" fill="#ff0000"/>
<circle cx="491.8" cy="438.2" r="1.6" fill="#ff0000"/>
<circle cx="469.8" cy="440.4" r="1.6" fill="#ff0000"/>
<circle cx="474.1" cy="441.8" r="1.6" fill="#ff0000"/>
<circle cx="479.8" cy="441.1" r="1.6" fill="#ff0000"/>
<circle cx="482.6" cy="442.5" r="1.6" fill="#ff0000"/>
<circle cx="485.5" cy="440.4" r="1.6" fill="#ff0000"/>
<circle cx="489.7" cy="442.5" r="1.6" fill="#ff0000"/>
<circle cx="495.4" cy="440.8" r="1.6" fill="#ff0000"/>
<circle cx="498.9" cy="440.8" r="1.6" fill="#ff0000"/>
<circle cx="512.7" cy="442.5" r="1.6" fill="#ff0000"/>
<circle cx="530.9" cy="441.8" r="1.6" fill="#ff0000"/>
<circle cx="474.1" cy="445.6" r="1.6" fill="#ff0000"/>
<circle cx="481.2" cy="444.6" r="1.6" fill="#ff0000"/>
<circle cx="486.9" cy="445.3" r="1.6" fill="#ff0000"/>
<circle cx="494.0" cy="445.3" r="1.6" fill="#ff0000"/>
<circle cx="496.8" cy="446.1" r="1.6" fill="#ff0000"/>
<circle cx="481.2" cy="448.2" r="1.6" fill="#ff0000"/>
<circle cx="484.0" cy="447.9" r="1.6" fill="#ff0000"/>
<circle cx="489.7" cy="448.2" r="1.6" fill="#ff0000"/>
<circle cx="500.4" cy="447.0" r="1.6" fill="#ff0000"/>
<circle cx="518.8" cy="445.1" r="1.6" fill="#ff0000"/>
<circle cx="501.8" cy="449.9" r="1.6" fill="#ff0000"/>
<circle cx="496.1" cy="448.9" r="1.6" fill="#ff0000"/>
<circle cx="498.2" cy="453.2" r="1.6" fill="#ff0000"/>
<circle cx="508.9" cy="454.1" r="1.6" fill="#ff0000"/>
<circle cx="513.2" cy="453.2" r="1.6" fill="#ff0000"/>
<circle cx="518.8" cy="456.7" r="1.6" fill="#ff0000"/>
<circle cx="524.5" cy="454.1" r="1.6" fill="#ff0000"/>
<circle cx="499.7" cy="456.7" r="1.6" fill="#ff0000"/>
<circle cx="507.5" cy="458.8" r="1.6" fill="#ff0000"/>
<circle cx="491.1" cy="451.0" r="1.6" fill="#ff0000"/>
<circle cx="526.6" cy="458.1" r="1.6" fill="#ff0000"/>
<circle cx="522.4" cy="457.4" r="1.6" fill="#ff0000"/>
<circle cx="458.5" cy="330.2" r="1.6" fill="#ff0000"/>
<circle cx="478.4" cy="363.5" r="1.6" fill="#ff0000"/>
<circle cx="467.0" cy="369.4" r="1.6" fill="#ff0000"/>
<circle cx="461.4" cy="377.2" r="1.6" fill="#ff0000"/>
<circle cx="465.3" cy="378.7" r="1.6" fill="#ff0000"/>
<circle cx="539.2" cy="444.0" r="1.6" fill="#ff0000"/>
<circle cx="532.1" cy="454.3" r="1.6" fill="#ff0000"/>
<circle cx="520.7" cy="456.8" r="1.6" fill="#ff0000"/>
<circle cx="522.8" cy="458.9" r="1.6" fill="#ff0000"/>
<circle cx="525.7" cy="460.4" r="1.6" fill="#ff0000"/>
<circle cx="531.4" cy="459.7" r="1.6" fill="#ff0000"/>
<circle cx="503.7" cy="459.6" r="1.6" fill="#ff0000"/>
<circle cx="475.7" cy="439.7" r="1.6" fill="#ff0000"/>
<circle cx="481.9" cy="446.4" r="1.6" fill="#ff0000"/>
<circle cx="478.5" cy="443.6" r="1.6" fill="#ff0000"/>
<circle cx="491.5" cy="441.9" r="1.6" fill="#ff0000"/>
<circle cx="489.8" cy="446.4" r="1.6" fill="#ff0000"/>
<circle cx="493.8" cy="447.6" r="1.6" fill="#ff0000"/>
<circle cx="494.3" cy="449.3" r="1.6" fill="#ff0000"/>
<circle cx="498.8" cy="448.7" r="1.6" fill="#ff0000"/>
<circle cx="500.0" cy="450.1" r="1.6" fill="#ff0000"/>
<path d="M526.9 407.9l1.8 3.1h-3.6z" fill="#0000ff"/>
<path d="M521.2 424.7l1.8 3.1h-3.6z" fill="#0000ff"/>
<path d="M514.3 427.1l1.8 3.1h-3.6z" fill="#0000ff"/>
<path d="M524.9 433.8l1.8 3.1h-3.6z" fill="#0000ff"/>
<path d="M526.9 434.5l1.8 3.1h-3.6z" fill="#0000ff"/>
<path d="M519.3 439.2l1.8 3.1h-3.6z" fill="#0000ff"/>
<path d="M534.9 438.9l1.8 3.1h-3.6z" fill="#0000ff"/>
<path d="M534.9 444.2l1.8 3.1h-3.6z" fill="#0000ff"/>
<path d="M536.9 448.4l1.8 3.1h-3.6z" fill="#0000ff"/>
<path d="M530.2 449.4l1.8 3.1h-3.6z" fill="#0000ff"/>
<path d="M535.5 452.7l1.8 3.1h-3.6z" fill="#0000ff"/>
<path d="M538.7 456.2l1.8 3.1h-3.6z" fill="#0000ff"/>
<path d="M528.1 456.9l1.8 3.1h-3.6z" fill="#0000ff"/>
<path d="M498.2 446.7l1.8 3.1h-3.6z" fill="#0000ff"/>
<path d="M572.8 400.2l1.8 3.1h-3.6z" fill="#0000ff"/>
<path d="M583.2 398.8l1.8 3.1h-3.6z" fill="#0000ff"/>
<path d="M574.7 404.5l1.8 3.1h-3.6z" fill="#0000ff"/>
<path d="M590.7 404.5l1.8 3.1h-3.6z" fill="#0000ff"/>
<path d="M596.7 404.5l1.8 3.1h-3.6z" fill="#0000ff"/>
<path d="M591.0 407.3l1.8 3.1h-3.6z" fill="#0000ff"/>
<path d="M601.0 409.2l1.8 3.1h-3.6z" fill="#0000ff"/>
<path d="M608.1 409.7l1.8 3.1h-3.6z" fill="#0000ff"/>
<path d="M608.1 411.6l1.8 3.1h-3.6z" fill="#0000ff"/>
<path d="M614.9 413.7l1.8 3.1h-3.6z" fill="#0000ff"/>
<path d="M617.7 416.3l1.8 3.1h-3.6z" fill="#0000ff"/>
<path d="M580.4 415.4l1.8 3.1h-3.6z" fill="#0000ff"/>
<path d="M588.2 414.9l1.8 3.1h-3.6z" fill="#0000ff"/>
<path d="M578.0 418.3l1.8 3.1h-3.6z" fill="#0000ff"/>
<path d="M596.7 419.1l1.8 3.1h-3.6z" fill="#0000ff"/>
<path d="M550.1 422.0l1.8 3.1h-3.6z" fill="#0000ff"/>
<path d="M557.2 420.5l1.8 3.1h-3.6z" fill="#0000ff"/>
<path d="M567.6 421.1l1.8 3.1h-3.6z" fill="#0000ff"/>
<path d="M618.0 423.7l1.8 3.1h-3.6z" fill="#0000ff"/>
<path d="M546.7 428.2l1.8 3.1h-3.6z" fill="#0000ff"/>
<path d="M554.4 428.2l1.8 3.1h-3.6z" fill="#0000ff"/>
<path d="M569.0 427.5l1.8 3.1h-3.6z" fill="#0000ff"/>
<path d="M575.1 428.2l1.8 3.1h-3.6z" fill="#0000ff"/>
<path d="M572.8 430.5l1.8 3.1h-3.6z" fill="#0000ff"/>
<path d="M586.1 426.2l1.8 3.1h-3.6z" fill="#0000ff"/>
<path d="M582.5 428.6l1.8 3.1h-3.6z" fill="#0000ff"/>
<path d="M580.4 430.8l1.8 3.1h-3.6z" fill="#0000ff"/>
<path d="M573.7 431.9l1.8 3.1h-3.6z" fill="#0000ff"/>
<path d="M597.8 432.5l1.8 3.1h-3.6z" fill="#0000ff"/>
<path d="M560.9 435.3l1.8 3.1h-3.6z" fill="#0000ff"/>
<path d="M571.1 435.7l1.8 3.1h-3.6z" fill="#0000ff"/>
<path d="M590.7 432.9l1.8 3.1h-3.6z" fill="#0000ff"/>
<path d="M593.9 437.9l1.8 3.1h-3.6z" fill="#0000ff"/>
<path d="M550.5 438.6l1.8 3.1h-3.6z" fill="#0000ff"/>
<path d="M556.2 441.0l1.8 3.1h-3.6z" fill="#0000ff"/>
<path d="M561.2 442.1l1.8 3.1h-3.6z" fill="#0000ff"/>
<path d="M574.7 440.4l1.8 3.1h-3.6z" fill="#0000ff"/>
<path d="M581.8 438.2l1.8 3.1h-3.6z" fill="#0000ff"/>
<path d="M586.1 438.6l1.8 3.1h-3.6z" fill="#0000ff"/>
<path d="M591.0 440.7l1.8 3.1h-3.6z" fill="#0000ff"/>
<path d="M601.2 440.7l1.8 3.1h-3.6z" fill="#0000ff"/>
<path d="M546.0 443.8l1.8 3.1h-3.6z" fill="#0000ff"/>
<path d="M577.5 444.3l1.8 3.1h-3.6z" fill="#0000ff"/>
<path d="M581.1 443.6l1.8 3.1h-3.6z" fill="#0000ff"/>
<path d="M583.2 445.0l1.8 3.1h-3.6z" fill="#0000ff"/>
<path d="M585.3 444.3l1.8 3.1h-3.6z" fill="#0000ff"/>
<path d="M593.2 446.4l1.8 3.1h-3.6z" fill="#0000ff"/>
<path d="M601.0 448.5l1.8 3.1h-3.6z" fill="#0000ff"/>
<path d="M549.1 449.0l1.8 3.1h-3.6z" fill="#0000ff"/>
<path d="M560.9 449.2l1.8 3.1h-3.6z" fill="#0000ff"/>
<path d="M569.7 448.5l1.8 3.1h-3.6z" fill="#0000ff"/>
<path d="M572.6 449.9l1.8 3.1h-3.6z" fill="#0000ff"/>
<path d="M586.8 449.5l1.8 3.1h-3.6z" fill="#0000ff"/>
<path d="M591.0 451.4l1.8 3.1h-3.6z" fill="#0000ff"/>
<path d="M593.9 450.7l1.8 3.1h-3.6z" fill="#0000ff"/>
<path d="M544.9 451.8l1.8 3.1h-3.6z" fill="#0000ff"/>
<path d="M589.6 452.8l1.8 3.1h-3.6z" fill="#0000ff"/>
<path d="M601.7 452.1l1.8 3.1h-3.6z" fill="#0000ff"/>
<path d="M549.1 457.8l1.8 3.1h-3.6z" fill="#0000ff"/>
<path d="M568.3 455.6l1.8 3.1h-3.6z" fill="#0000ff"/>
<path d="M573.7 454.6l1.8 3.1h-3.6z" fill="#0000ff"/>
<path d="M576.8 457.5l1.8 3.1h-3.6z" fill="#0000ff"/>
<path d="M585.3 456.3l1.8 3.1h-3.6z" fill="#0000ff"/>
<path d="M593.9 456.3l1.8 3.1h-3.6z" fill="#0000ff"/>
<path d="M595.3 454.6l1.8 3.1h-3.6z" fill="#0000ff"/>
<path d="M598.1 455.2l1.8 3.1h-3.6z" fill="#0000ff"/>
<path d="M599.5 458.9l1.8 3.1h-3.6z" fill="#0000ff"/>
<path d="M605.2 459.2l1.8 3.1h-3.6z" fill="#0000ff"/>
<path d="M571.8 459.9l1.8 3.1h-3.6z" fill="#0000ff"/>
<path d="M557.2 461.3l1.8 3.1h-3.6z" fill="#0000ff"/>
<path d="M582.5 460.6l1.8 3.1h-3.6z" fill="#0000ff"/>
<path d="M588.2 462.0l1.8 3.1h-3.6z" fill="#0000ff"/>
<path d="M591.0 461.7l1.8 3.1h-3.6z" fill="#0000ff"/>
<path d="M592.4 463.7l1.8 3.1h-3.6z" fill="#0000ff"/>
<path d="M594.6 464.9l1.8 3.1h-3.6z" fill="#0000ff"/>
<path d="M596.7 463.2l1.8 3.1h-3.6z" fill="#0000ff"/>
<path d="M597.4 465.6l1.8 3.1h-3.6z" fill="#0000ff"/>
<path d="M605.2 462.7l1.8 3.1h-3.6z" fill="#0000ff"/>
<path d="M582.5 464.2l1.8 3.1h-3.6z" fill="#0000ff"/>
<path d="M576.1 468.8l1.8 3.1h-3.6z" fill="#0000ff"/>
<path d="M609.8 467.7l1.8 3.1h-3.6z" fill="#0000ff"/>
<path d="M589.6 459.2l1.8 3.1h-3.6z" fill="#0000ff"/>
<path d="M601.3 367.1l1.8 3.1h-3.6z" fill="#0000ff"/>
<path d="M589.0 371.0l1.8 3.1h-3.6z" fill="#0000ff"/>
<path d="M594.9 372.3l1.8 3.1h-3.6z" fill="#0000ff"/>
<path d="M593.7 374.4l1.8 3.1h-3.6z" fill="#0000ff"/>
<path d="M599.6 374.3l1.8 3.1h-3.6z" fill="#0000ff"/>
<path d="M609.9 371.8l1.8 3.1h-3.6z" fill="#0000ff"/>
<path d="M607.4 379.6l1.8 3.1h-3.6z" fill="#0000ff"/>
<path d="M602.4 382.4l1.8 3.1h-3.6z" fill="#0000ff"/>
<path d="M604.9 384.2l1.8 3.1h-3.6z" fill="#0000ff"/>
<path d="M605.2 387.8l1.8 3.1h-3.6z" fill="#0000ff"/>
<path d="M584.2 385.3l1.8 3.1h-3.6z" fill="#0000ff"/>
<path d="M596.8 391.7l1.8 3.1h-3.6z" fill="#0000ff"/>
<path d="M600.2 391.7l1.8 3.1h-3.6z" fill="#0000ff"/>
<path d="M580.4 441.3l1.8 3.1h-3.6z" fill="#0000ff"/>
<path d="M581.2 445.3l1.8 3.1h-3.6z" fill="#0000ff"/>
<path d="M585.2 446.1l1.8 3.1h-3.6z" fill="#0000ff"/>
<path d="M586.0 442.1l1.8 3.1h-3.6z" fill="#0000ff"/>
<path d="M587.2 443.7l1.8 3.1h-3.6z" fill="#0000ff"/>
<path d="M582.8 442.1l1.8 3.1h-3.6z" fill="#0000ff"/>
<path d="M580.0 439.7l1.8 3.1h-3.6z" fill="#0000ff"/>
<path d="M588.4 451.6l1.8 3.1h-3.6z" fill="#0000ff"/>
<path d="M594.0 460.4l1.8 3.1h-3.6z" fill="#0000ff"/>
<path d="M596.4 459.6l1.8 3.1h-3.6z" fill="#0000ff"/>
<path d="M604.3 461.2l1.8 3.1h-3.6z" fill="#0000ff"/>
<path d="M589.2 449.6l1.8 3.1h-3.6z" fill="#0000ff"/>
<circle cx="662" cy="324.9" r="3.4" fill="#ff0000"/>
<path d="M662 336.2l3.9 6.3h-7.8z" fill="#0000ff"/>
<text x="675" y="328.8" font-size="11" font-weight="bold" fill="#111">G1</text>
<text x="675" y="343.2" font-size="11" font-weight="bold" fill="#111">G2</text>
</svg>
</body></html>
